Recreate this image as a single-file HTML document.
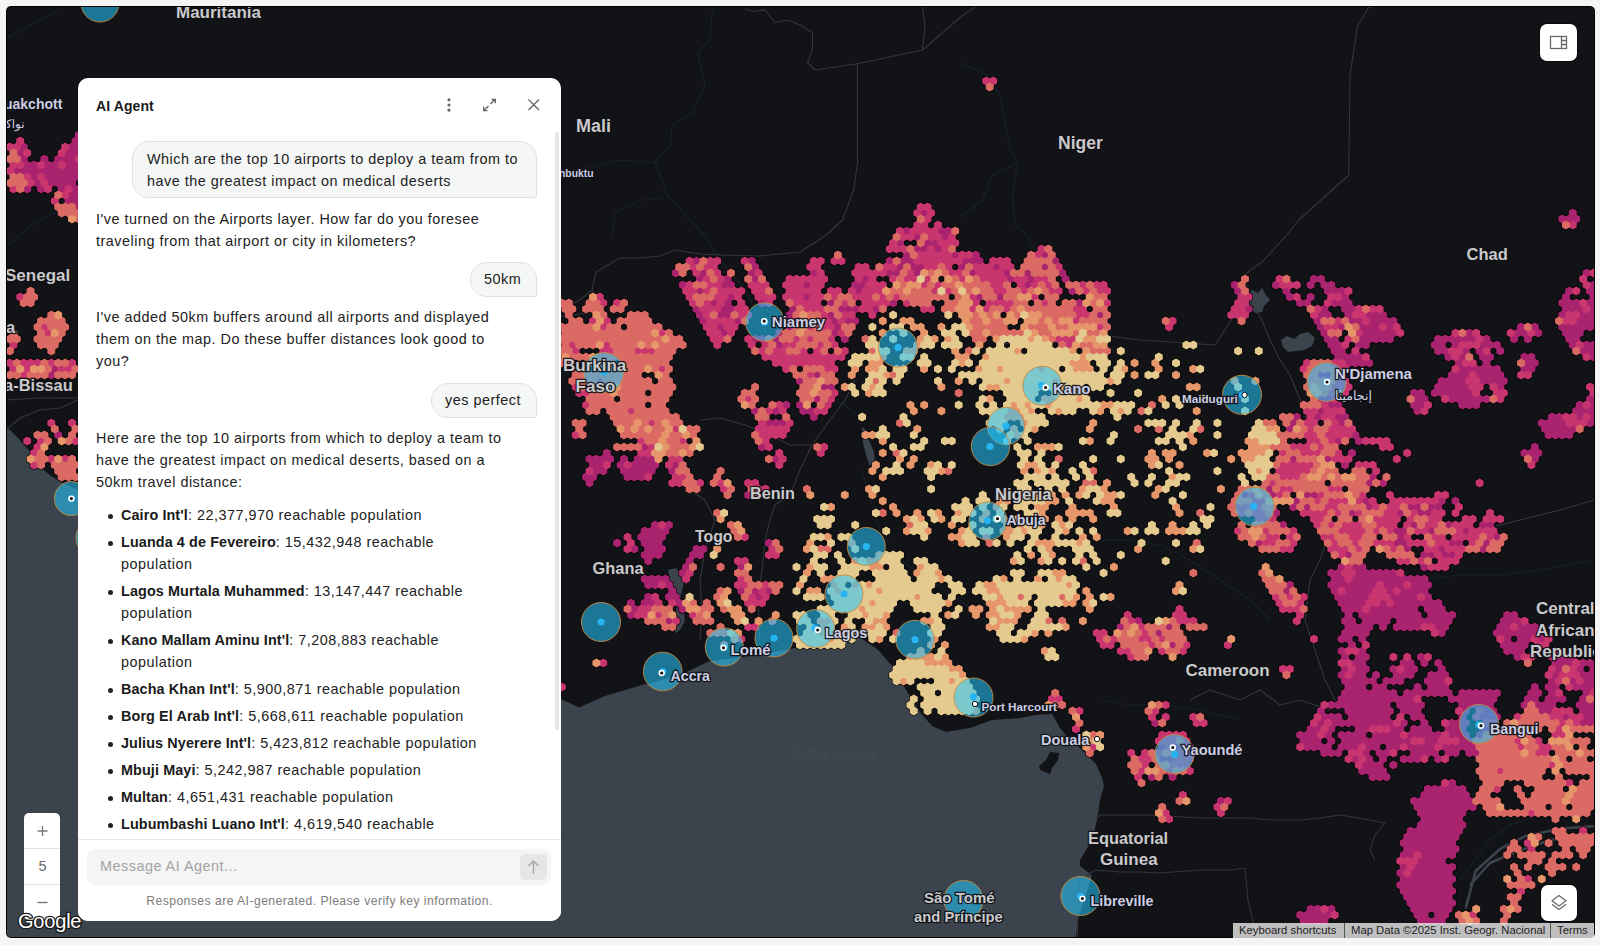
<!DOCTYPE html>
<html><head><meta charset="utf-8">
<style>
*{box-sizing:border-box;margin:0;padding:0}
html,body{width:1600px;height:945px;overflow:hidden;background:#f3f4f3;font-family:"Liberation Sans",Arial,sans-serif}
#map{position:absolute;left:7px;top:7px;width:1587px;height:930px;background:#121317;border-radius:4px;overflow:hidden;box-shadow:0 0 0 1px #000}
#map svg{position:absolute;left:-7px;top:-7px}
.lbl{position:absolute;font-family:"Liberation Sans",Arial,sans-serif;font-weight:bold;color:#cfd0d4;white-space:nowrap;-webkit-text-stroke:2.6px rgba(16,16,20,0.92);paint-order:stroke fill}
#panel{position:absolute;left:78px;top:78px;width:483px;height:843px;background:#fff;border-radius:10px;overflow:hidden;color:#222}
#panel .hdr{position:absolute;left:18px;top:20px;font-size:14px;font-weight:bold;color:#1b1b1b;letter-spacing:0.1px}
.t{position:absolute;font-size:14.4px;line-height:22px;color:#222;white-space:nowrap;letter-spacing:0.5px}
.bub{position:absolute;background:#f5f6f6;border:1px solid #dfe1e1;border-radius:17px 17px 3px 17px}
.li{position:absolute;left:43px;font-size:14.4px;line-height:22px;color:#222;white-space:nowrap;letter-spacing:0.5px}
.li b{color:#1a1a1a;letter-spacing:0.1px}
.dot{position:absolute;left:30px;width:5px;height:5px;border-radius:50%;background:#222}
#scroll{position:absolute;left:477px;top:54px;width:4px;height:598px;background:#e4e5e5;border-radius:2px}
#div{position:absolute;left:0;top:761px;width:483px;height:1px;background:#e8e8e8}
#inp{position:absolute;left:9px;top:771px;width:464px;height:36px;background:#f5f5f5;border-radius:8px}
#inp span{position:absolute;left:13px;top:9px;font-size:14.4px;color:#a3a3a3;letter-spacing:0.5px}
#send{position:absolute;left:433px;top:5px;width:27px;height:26px;background:#e5e6e6;border-radius:5px}
#foot{position:absolute;left:0;width:483px;top:816px;text-align:center;font-size:12.2px;color:#7c7c7c;letter-spacing:0.44px}
#zoom{position:absolute;left:24px;top:813px;width:36px;height:107px;background:#fff;border-radius:5px}
#zoom div{position:absolute;left:0;width:36px;height:1px;background:#e3e3e3}
#attr{position:absolute;left:1233px;top:923px;width:361px;height:15px;background:rgba(240,240,240,0.78);font-family:"Liberation Sans",Arial,sans-serif;font-size:11.3px;color:#222;white-space:nowrap}
#attr span{position:absolute;top:1px}
.btn{position:absolute;width:37px;height:37px;background:#fff;border-radius:7px;box-shadow:0 0 0 1px rgba(0,0,0,.5)}
</style></head><body>
<div id="map">
<svg width="1600" height="945" viewBox="0 0 1600 945">
<defs>
<marker id="hM" markerUnits="userSpaceOnUse" markerWidth="8" markerHeight="9" refX="3.5" refY="4" orient="0" overflow="visible"><path d="M3.5 -0.6l3.97 2.3v4.6l-3.97 2.3-3.97-2.3v-4.6z" fill="#a9236f"/></marker>
<marker id="hP" markerUnits="userSpaceOnUse" markerWidth="8" markerHeight="9" refX="3.5" refY="4" orient="0" overflow="visible"><path d="M3.5 -0.6l3.97 2.3v4.6l-3.97 2.3-3.97-2.3v-4.6z" fill="#c9356e"/></marker>
<marker id="hC" markerUnits="userSpaceOnUse" markerWidth="8" markerHeight="9" refX="3.5" refY="4" orient="0" overflow="visible"><path d="M3.5 -0.6l3.97 2.3v4.6l-3.97 2.3-3.97-2.3v-4.6z" fill="#db6a65"/></marker>
<marker id="hO" markerUnits="userSpaceOnUse" markerWidth="8" markerHeight="9" refX="3.5" refY="4" orient="0" overflow="visible"><path d="M3.5 -0.6l3.97 2.3v4.6l-3.97 2.3-3.97-2.3v-4.6z" fill="#e6966a"/></marker>
<marker id="hB" markerUnits="userSpaceOnUse" markerWidth="8" markerHeight="9" refX="3.5" refY="4" orient="0" overflow="visible"><path d="M3.5 -0.6l3.97 2.3v4.6l-3.97 2.3-3.97-2.3v-4.6z" fill="#e5ca8f"/></marker>
<marker id="hQ" markerUnits="userSpaceOnUse" markerWidth="8" markerHeight="9" refX="3.5" refY="4" orient="0" overflow="visible"><path d="M3.5 -0.6l3.97 2.3v4.6l-3.97 2.3-3.97-2.3v-4.6z" fill="#bd3079"/></marker>
<marker id="hK" markerUnits="userSpaceOnUse" markerWidth="8" markerHeight="9" refX="3.5" refY="4" orient="0" overflow="visible"><path d="M3.5 -1.3l4.6 2.65v5.3l-4.6 2.65-4.6-2.65v-5.3z" fill="#040506"/></marker>
</defs>
<polygon points="0,427 7,427 18,438 28.6,450 40,467 51,476 63,483 78,490 300,600 561,699 579,707.5 605,696 642,685 680,675 710,661 740,657.5 785,650 825,642.5 860,637.5 875,647.5 880,652 892,666 906,690 920,712 932,726 946,732 970,728 992,720 1020,718 1036,715 1052,714 1060,728 1070,740 1080,748 1088,756 1096,764 1102,778 1104,786 1100,800 1097,820 1092,840 1080,860 1080,866 1088,872 1092,876 1084,900 1078,920 1075,945 0,945" fill="#3b444d"/>
<polygon points="1050,752 1059,753 1058,760 1052,768 1050,774 1040,770 1039,766 1046,760" fill="#121317"/>
<polygon points="1247,298 1252,290 1258,293 1262,288 1266,295 1270,300 1264,306 1262,312 1255,313 1250,306" fill="#3b444d"/>
<polygon points="1281,340 1287,336 1294,339 1300,334 1308,332 1315,338 1312,346 1304,350 1296,351 1288,352 1283,347" fill="#3b444d"/>
<polygon points="862,427 866,430 869,440 874,452 875,464 870,466 866,455 863,443" fill="#3b444d"/>
<polygon points="668.2,570 676,568 684.7,579 682,590 680,600 684,612 684.7,621 680,630 675.7,633 673,628 671,624 675,615 677,606 674,596 671,585" fill="#3b444d"/>
<polyline points="1465.6,908.5 1475.7,871 1500.8,848.3 1525.8,835.8 1563.4,828.3 1601,825.8" fill="none" stroke="#3b444d" stroke-width="2.6" stroke-linejoin="round"/>
<polyline points="1470,885 1490,863 1513,853 1550,840 1600,835" fill="none" stroke="#3b444d" stroke-width="2.6" stroke-linejoin="round"/>
<polyline points="7,246 30,226 60,210 78,204" fill="none" stroke="#18202b" stroke-width="1.2" stroke-linejoin="round"/>
<polyline points="960,62.5 987.5,75 1000,95 1010,150 1017.5,162.5 1012.5,195 1015,225 1027.5,236 1035,250" fill="none" stroke="#18202b" stroke-width="1.2" stroke-linejoin="round"/>
<polyline points="1017.5,162.5 992.5,175 982.5,200 960,217.5" fill="none" stroke="#18202b" stroke-width="1.2" stroke-linejoin="round"/>
<polyline points="7,38 40,20 60,10" fill="none" stroke="#18202b" stroke-width="1.2" stroke-linejoin="round"/>
<polyline points="760,320 770,345 785,365 800,380 820,395 845,405 862,420" fill="none" stroke="#18202b" stroke-width="1.2" stroke-linejoin="round"/>
<polyline points="862,470 870,500 880,530 900,560 930,580 960,600 990,625" fill="none" stroke="#18202b" stroke-width="1.2" stroke-linejoin="round"/>
<polyline points="712.5,8.75 710,40 697.5,52.5 705,85 692.5,112.5 672.5,125 670,145 655,162.5 620,160 580,170 561,176" fill="none" stroke="#18202b" stroke-width="1.2" stroke-linejoin="round"/>
<polyline points="655,162.5 667.5,195 692.5,222.5 705,236 720,260 745,290 760,320" fill="none" stroke="#18202b" stroke-width="1.2" stroke-linejoin="round"/>
<polyline points="612.5,236 615,212.5 642.5,200 670,197.5" fill="none" stroke="#18202b" stroke-width="1.2" stroke-linejoin="round"/>
<polyline points="1100,540 1130,540 1160,545 1190,560 1220,580 1250,600 1270,620" fill="none" stroke="#18202b" stroke-width="1.2" stroke-linejoin="round"/>
<polyline points="1420,580 1460,575 1500,575 1540,570 1594,560" fill="none" stroke="#18202b" stroke-width="1.2" stroke-linejoin="round"/>
<polyline points="1100,700 1130,705 1160,705 1200,710 1240,720" fill="none" stroke="#18202b" stroke-width="1.2" stroke-linejoin="round"/>
<polyline points="1460,880 1475,860 1490,840 1510,825 1540,815 1594,810" fill="none" stroke="#18202b" stroke-width="1.2" stroke-linejoin="round"/>
<polyline points="745,8.75 752.5,11.25 765,10 775,22.5 787.5,20 800,25 812.5,32.5 812.5,50 807.5,62.5 815,70 857.5,63.75 922.5,50 960,17.5 975,7" fill="none" stroke="#34363b" stroke-width="1.1" stroke-linejoin="round"/>
<polyline points="922.5,50 925,25 922.5,7" fill="none" stroke="#34363b" stroke-width="1.1" stroke-linejoin="round"/>
<polyline points="857.5,63.75 857.5,162.5 853.75,190 842.5,220 825,236 800,252 760,256 720,255 700,254 675,250 660,256 640,258 620,258 596,272 592,290 580,300 561,310" fill="none" stroke="#34363b" stroke-width="1.1" stroke-linejoin="round"/>
<polyline points="560,316 590,313 593,290" fill="none" stroke="#34363b" stroke-width="1.1" stroke-linejoin="round"/>
<polyline points="1372,7 1368.75,7.5 1357.5,26 1350,75 1348.75,175 1298.75,220 1286,236 1262,262 1244,275" fill="none" stroke="#34363b" stroke-width="1.1" stroke-linejoin="round"/>
<polyline points="1000,345 1030,338 1060,335 1100,335 1140,340 1170,342 1215,345 1225,330 1240,305 1244,275" fill="none" stroke="#34363b" stroke-width="1.1" stroke-linejoin="round"/>
<polyline points="1244,275 1250,300 1262,320 1270,340 1280,360 1290,375 1300,400 1310,430 1320,450 1330,470 1335,490 1325,510 1330,530 1320,560 1310,580 1305,620 1315,650 1325,680 1340,710" fill="none" stroke="#34363b" stroke-width="1.1" stroke-linejoin="round"/>
<polyline points="1077,960 1078,900 1080,880 1095,870 1120,872 1140,872 1160,873 1200,870 1230,870 1245,868" fill="none" stroke="#34363b" stroke-width="1.1" stroke-linejoin="round"/>
<polyline points="1095,820 1100,815 1150,815 1200,818 1250,818 1270,820 1300,820 1320,818 1340,815 1370,820 1385,823 1375,835 1370,850 1375,860" fill="none" stroke="#34363b" stroke-width="1.1" stroke-linejoin="round"/>
<polyline points="1245,868 1248,900 1255,930 1265,945" fill="none" stroke="#34363b" stroke-width="1.1" stroke-linejoin="round"/>
<polyline points="760,640 758,600 762,570 765,540 770,520 775,505 790,495 800,470 812,445 830,420 845,400 855,380" fill="none" stroke="#34363b" stroke-width="1.1" stroke-linejoin="round"/>
<polyline points="700,420 720,418 745,425 770,435 790,445 812,445" fill="none" stroke="#34363b" stroke-width="1.1" stroke-linejoin="round"/>
<polyline points="7,400 40,398 78,398" fill="none" stroke="#34363b" stroke-width="1.1" stroke-linejoin="round"/>
<polyline points="7,429 20,418 40,410 60,408 78,400" fill="none" stroke="#34363b" stroke-width="1.1" stroke-linejoin="round"/>
<polyline points="700,640 702,610 700,580 705,550 715,520 705,500 690,490 685,470" fill="none" stroke="#34363b" stroke-width="1.1" stroke-linejoin="round"/>
<polyline points="1190,700 1210,690 1240,700 1260,690 1280,705 1300,700 1330,710" fill="none" stroke="#34363b" stroke-width="1.1" stroke-linejoin="round"/>
<polyline points="1480,530 1520,520 1560,510 1594,500" fill="none" stroke="#34363b" stroke-width="1.1" stroke-linejoin="round"/>
<text x="833" y="758" text-anchor="middle" font-family="Liberation Sans,Arial,sans-serif" font-size="13" fill="#424a53">Gulf of Guinea</text>
<path d="M986.3 81h6.9M989.7 87M78.9 135M20.2 141h55.2h6.9M9.9 147h6.9h6.9h41.4h6.9h6.9M13.4 153h6.9h6.9h34.5h6.9h6.9h6.9M9.9 159h6.9h6.9h20.7h13.8h6.9h6.9h6.9M13.4 165h6.9h6.9h6.9h6.9h6.9h6.9h6.9h6.9h6.9h6.9M9.9 171h6.9h6.9h6.9h6.9h6.9h6.9h6.9h6.9h6.9h6.9M13.4 177h6.9h6.9h6.9h6.9h6.9h6.9h6.9h6.9h6.9h6.9M9.9 183h6.9h6.9h6.9h6.9h6.9h6.9h6.9h6.9h6.9M13.4 189h6.9h6.9h13.8h6.9h13.8h6.9h6.9h6.9M58.2 195h6.9h6.9h6.9M54.8 201h13.8h6.9h6.9M58.2 207h6.9h6.9h6.9h841.8h6.9M61.7 213h6.9h6.9h6.9h834.9h6.9h6.9h641.7M72.0 219h6.9h841.8h6.9h634.8h6.9h6.9M917.3 225h6.9h13.8h627.9h6.9M900.0 231h6.9h6.9h6.9h6.9h6.9h6.9h6.9h6.9M896.6 237h6.9h6.9h6.9h6.9h6.9h6.9h6.9h6.9M893.1 243h6.9h20.7h6.9h6.9h6.9h6.9h6.9M889.7 249h6.9h6.9h6.9h6.9h6.9h6.9h6.9h6.9h6.9h89.7h6.9M837.9 255h69h6.9h6.9h6.9h6.9h6.9h6.9h6.9h6.9h6.9h6.9h55.2h6.9h6.9h6.9M689.6 261h6.9h6.9h6.9h6.9h27.6h6.9h62.1h6.9h13.8h6.9h48.3h6.9h6.9h6.9h6.9h6.9h6.9h6.9h6.9h6.9h6.9h6.9h6.9h6.9h13.8h6.9h6.9h20.7h6.9h6.9h6.9h6.9M679.2 267h6.9h6.9h6.9h6.9h6.9h34.5h6.9h55.2h6.9h41.4h6.9h13.8h6.9h6.9h6.9h6.9h6.9h6.9h6.9h6.9h6.9h6.9h13.8h6.9h6.9h6.9h6.9h6.9h6.9h6.9h13.8h6.9h6.9h6.9h6.9h6.9M675.8 273h6.9h13.8h6.9h6.9h6.9h13.8h20.7h6.9h55.2h6.9h34.5h6.9h6.9h6.9h6.9h6.9h6.9h6.9h6.9h6.9h6.9h6.9h6.9h6.9h6.9h6.9h6.9h6.9h6.9h6.9h6.9h6.9h6.9h6.9h6.9h6.9h6.9h6.9h6.9h6.9h6.9h524.4h6.9M699.9 279h6.9h6.9h6.9h6.9h20.7h6.9h6.9h27.6h6.9h6.9h6.9h6.9h6.9h34.5h6.9h6.9h20.7h6.9h6.9h6.9h6.9h6.9h6.9h13.8h6.9h6.9h6.9h6.9h6.9h6.9h6.9h6.9h6.9h6.9h6.9h6.9h6.9h6.9h6.9h13.8h179.4h34.5h6.9h27.6h6.9h262.2M682.7 285h6.9h6.9h6.9h6.9h6.9h6.9h6.9h20.7h6.9h6.9h20.7h6.9h6.9h6.9h6.9h6.9h34.5h6.9h6.9h6.9h6.9h13.8h6.9h6.9h6.9h6.9h6.9h6.9h6.9h6.9h6.9h6.9h6.9h6.9h6.9h6.9h6.9h6.9h13.8h6.9h6.9h6.9h6.9h6.9h13.8h6.9h6.9h6.9h6.9h6.9h131.1h6.9h34.5h6.9h6.9h6.9h13.8h13.8h6.9h255.3h6.9M30.6 291h655.5h6.9h6.9h6.9h6.9h6.9h6.9h6.9h6.9h13.8h6.9h6.9h20.7h6.9h6.9h6.9h6.9h13.8h6.9h13.8h6.9h6.9h6.9h6.9h6.9h6.9h6.9h6.9h6.9h6.9h6.9h6.9h6.9h6.9h6.9h6.9h6.9h6.9h6.9h6.9h6.9h6.9h6.9h6.9h6.9h6.9h6.9h6.9h6.9h6.9h13.8h6.9h6.9h6.9h6.9h6.9h131.1h6.9h41.4h41.4h6.9h6.9h6.9h220.8h6.9h13.8M20.2 297h6.9h6.9h558.9h6.9h89.7h6.9h6.9h6.9h6.9h6.9h6.9h6.9h20.7h6.9h6.9h13.8h6.9h6.9h6.9h6.9h6.9h6.9h6.9h6.9h6.9h6.9h6.9h6.9h6.9h6.9h6.9h6.9h6.9h6.9h6.9h6.9h6.9h6.9h6.9h13.8h6.9h6.9h6.9h6.9h6.9h6.9h6.9h6.9h6.9h6.9h6.9h13.8h6.9h34.5h6.9h6.9h138h6.9h41.4h6.9h13.8h20.7h6.9h6.9h220.8h27.6M23.7 303h6.9h531.3h6.9h20.7h6.9h6.9h13.8h6.9h69h6.9h6.9h6.9h6.9h6.9h13.8h20.7h6.9h20.7h6.9h6.9h6.9h6.9h13.8h6.9h6.9h6.9h13.8h6.9h6.9h6.9h6.9h13.8h6.9h6.9h6.9h20.7h6.9h6.9h6.9h6.9h13.8h6.9h6.9h6.9h6.9h6.9h13.8h6.9h6.9h13.8h6.9h6.9h6.9h6.9h6.9h6.9h131.1h6.9h55.2h6.9h20.7h6.9h6.9h6.9h213.9h6.9h6.9h6.9h6.9M565.4 309h6.9h13.8h6.9h6.9h13.8h6.9h75.9h6.9h6.9h6.9h6.9h6.9h6.9h6.9h48.3h6.9h6.9h6.9h6.9h6.9h6.9h6.9h6.9h6.9h6.9h6.9h6.9h6.9h41.4h6.9h13.8h6.9h6.9h6.9h6.9h6.9h6.9h6.9h6.9h6.9h6.9h6.9h6.9h6.9h6.9h6.9h6.9h6.9h6.9h6.9h6.9h13.8h6.9h131.1h6.9h6.9h62.1h6.9h6.9h20.7h6.9h6.9h6.9h6.9h6.9h186.3h6.9h6.9h6.9h6.9M51.3 315h6.9h510.6h27.6h6.9h27.6h6.9h6.9h55.2h6.9h6.9h6.9h6.9h6.9h6.9h6.9h41.4h6.9h6.9h6.9h6.9h6.9h6.9h6.9h6.9h6.9h20.7h20.7h55.2h13.8h6.9h6.9h6.9h6.9h6.9h13.8h6.9h6.9h6.9h6.9h6.9h6.9h6.9h6.9h6.9h6.9h6.9h6.9h6.9h6.9h124.2h6.9h6.9h69h6.9h6.9h20.7h6.9h6.9h6.9h6.9h6.9h179.4h6.9h6.9h6.9h6.9M41.0 321h6.9h6.9h6.9h510.6h6.9h13.8h6.9h6.9h13.8h6.9h6.9h6.9h6.9h55.2h6.9h6.9h6.9h6.9h6.9h6.9h41.4h6.9h6.9h6.9h6.9h6.9h6.9h6.9h6.9h6.9h6.9h27.6h20.7h6.9h55.2h6.9h6.9h6.9h6.9h6.9h6.9h6.9h13.8h6.9h6.9h6.9h6.9h6.9h6.9h6.9h6.9h6.9h6.9h6.9h62.1h6.9h69h75.9h6.9h6.9h6.9h6.9h6.9h6.9h6.9h6.9h6.9h6.9h6.9h165.6h6.9h6.9h6.9h6.9h6.9M37.5 327h6.9h6.9h6.9h6.9h496.8h6.9h6.9h6.9h6.9h6.9h6.9h6.9h6.9h13.8h6.9h6.9h6.9h6.9h48.3h6.9h6.9h6.9h6.9h55.2h6.9h6.9h6.9h6.9h6.9h6.9h6.9h6.9h6.9h20.7h20.7h6.9h13.8h6.9h20.7h13.8h6.9h6.9h6.9h6.9h6.9h6.9h6.9h20.7h6.9h6.9h6.9h6.9h6.9h6.9h6.9h6.9h6.9h6.9h6.9h6.9h62.1h151.8h6.9h6.9h6.9h6.9h6.9h6.9h6.9h6.9h6.9h6.9h6.9h124.2h6.9h6.9h27.6h6.9h6.9h6.9h6.9M13.4 333h27.6h6.9h6.9h6.9h503.7h6.9h6.9h6.9h6.9h6.9h6.9h6.9h6.9h6.9h6.9h6.9h6.9h6.9h6.9h6.9h41.4h6.9h6.9h6.9h48.3h6.9h6.9h6.9h6.9h6.9h6.9h6.9h6.9h6.9h6.9h34.5h20.7h20.7h20.7h6.9h13.8h6.9h6.9h6.9h6.9h6.9h6.9h6.9h6.9h6.9h6.9h6.9h6.9h6.9h6.9h6.9h6.9h6.9h6.9h6.9h6.9h220.8h6.9h6.9h13.8h6.9h6.9h6.9h6.9h6.9h6.9h6.9h55.2h6.9h6.9h6.9h34.5h6.9h6.9h6.9h6.9h27.6h6.9h6.9M9.9 339h6.9h20.7h6.9h6.9h6.9h503.7h6.9h6.9h6.9h6.9h6.9h6.9h6.9h6.9h6.9h6.9h6.9h6.9h6.9h6.9h6.9h6.9h6.9h34.5h6.9h6.9h20.7h6.9h6.9h6.9h6.9h6.9h6.9h6.9h6.9h6.9h6.9h6.9h6.9h13.8h20.7h6.9h20.7h27.6h6.9h6.9h13.8h6.9h20.7h6.9h13.8h6.9h6.9h6.9h6.9h6.9h6.9h6.9h6.9h6.9h6.9h6.9h6.9h6.9h6.9h6.9h6.9h220.8h6.9h13.8h6.9h6.9h6.9h6.9h6.9h6.9h48.3h6.9h6.9h6.9h6.9h6.9h6.9h6.9h27.6h13.8h41.4h6.9M13.4 345h27.6h6.9h6.9h510.6h6.9h6.9h6.9h6.9h6.9h6.9h6.9h6.9h6.9h6.9h6.9h6.9h6.9h6.9h6.9h6.9h6.9h34.5h34.5h13.8h6.9h6.9h6.9h6.9h6.9h6.9h6.9h6.9h6.9h6.9h34.5h6.9h41.4h6.9h6.9h13.8h6.9h6.9h20.7h20.7h13.8h6.9h6.9h6.9h6.9h6.9h13.8h6.9h6.9h6.9h6.9h6.9h6.9h82.8h6.9h138h6.9h6.9h13.8h6.9h69h6.9h13.8h6.9h6.9h6.9h6.9h6.9h6.9h75.9h6.9h6.9h6.9M9.9 351h41.4h510.6h6.9h6.9h27.6h6.9h6.9h6.9h6.9h6.9h6.9h6.9h6.9h6.9h6.9h82.8h6.9h6.9h6.9h6.9h6.9h6.9h6.9h13.8h6.9h13.8h6.9h27.6h6.9h6.9h20.7h6.9h41.4h13.8h6.9h13.8h6.9h6.9h6.9h6.9h13.8h6.9h6.9h6.9h6.9h6.9h6.9h13.8h6.9h6.9h6.9h13.8h117.3h20.7h75.9h6.9h13.8h82.8h6.9h6.9h6.9h6.9h13.8h6.9h13.8h75.9h6.9h6.9M565.4 357h6.9h6.9h6.9h6.9h6.9h6.9h6.9h6.9h6.9h6.9h6.9h6.9h6.9h6.9h6.9h96.6h6.9h6.9h6.9h6.9h6.9h6.9h6.9h6.9h6.9h6.9h6.9h13.8h6.9h6.9h6.9h6.9h20.7h6.9h13.8h34.5h6.9h20.7h6.9h6.9h6.9h6.9h6.9h6.9h6.9h6.9h6.9h6.9h6.9h6.9h6.9h6.9h6.9h6.9h6.9h55.2h179.4h6.9h6.9h6.9h6.9h82.8h6.9h6.9h6.9h13.8h6.9h34.5h6.9h55.2h6.9M9.9 363h6.9h6.9h6.9h6.9h6.9h6.9h6.9h6.9h6.9h489.9h6.9h20.7h6.9h6.9h6.9h13.8h6.9h6.9h6.9h6.9h6.9h6.9h110.4h6.9h6.9h6.9h6.9h6.9h6.9h6.9h6.9h20.7h6.9h13.8h6.9h41.4h6.9h27.6h6.9h6.9h13.8h6.9h6.9h6.9h6.9h6.9h6.9h6.9h6.9h6.9h6.9h6.9h6.9h6.9h6.9h6.9h13.8h6.9h13.8h13.8h20.7h20.7h131.1h6.9h6.9h6.9h6.9h6.9h6.9h6.9h6.9h6.9h89.7h6.9h6.9h13.8h34.5h6.9h6.9M13.4 369h6.9h6.9h6.9h6.9h6.9h6.9h6.9h6.9h6.9h510.6h13.8h6.9h6.9h6.9h6.9h6.9h6.9h6.9h6.9h6.9h6.9h117.3h6.9h13.8h6.9h6.9h6.9h6.9h20.7h13.8h6.9h6.9h13.8h6.9h20.7h13.8h13.8h27.6h6.9h6.9h6.9h6.9h6.9h6.9h6.9h6.9h6.9h6.9h6.9h13.8h6.9h6.9h6.9h13.8h13.8h6.9h34.5h34.5h6.9h103.5h6.9h6.9h6.9h6.9h6.9h6.9h110.4h6.9h6.9h6.9h6.9h6.9h6.9h27.6h6.9M9.9 375h6.9h6.9h6.9h6.9h6.9h6.9h6.9h6.9h6.9h503.7h6.9h6.9h6.9h6.9h6.9h6.9h6.9h6.9h6.9h20.7h6.9h131.1h6.9h6.9h6.9h6.9h6.9h20.7h20.7h6.9h6.9h6.9h6.9h62.1h6.9h6.9h6.9h6.9h6.9h6.9h6.9h6.9h6.9h6.9h6.9h6.9h6.9h6.9h6.9h6.9h6.9h6.9h6.9h6.9h13.8h6.9h13.8h13.8h6.9h20.7h131.1h6.9h6.9h6.9h6.9h6.9h110.4h6.9h6.9h6.9h6.9h6.9h6.9h6.9h20.7h6.9M572.3 381h6.9h6.9h6.9h6.9h6.9h6.9h6.9h6.9h6.9h6.9h6.9h13.8h6.9h131.1h6.9h6.9h6.9h6.9h6.9h34.5h6.9h6.9h13.8h41.4h20.7h13.8h13.8h6.9h6.9h6.9h6.9h6.9h6.9h6.9h6.9h6.9h6.9h6.9h6.9h6.9h6.9h6.9h6.9h6.9h6.9h6.9h117.3h20.7h55.2h6.9h6.9h6.9h6.9h6.9h96.6h6.9h6.9h6.9h6.9h6.9h6.9h6.9h6.9h6.9M575.7 387h6.9h6.9h6.9h6.9h6.9h6.9h6.9h6.9h6.9h6.9h6.9h6.9h6.9h6.9h82.8h48.3h6.9h6.9h6.9h6.9h13.8h6.9h13.8h6.9h6.9h62.1h41.4h6.9h6.9h6.9h6.9h6.9h6.9h6.9h6.9h6.9h6.9h6.9h6.9h6.9h6.9h13.8h6.9h89.7h6.9h41.4h69h6.9h6.9h6.9h6.9h6.9h6.9h89.7h6.9h6.9h6.9h6.9h6.9h6.9h13.8h6.9h89.7M579.2 393h6.9h6.9h6.9h6.9h6.9h6.9h6.9h6.9h6.9h13.8h6.9h6.9h75.9h6.9h48.3h6.9h6.9h6.9h6.9h6.9h20.7h13.8h6.9h6.9h75.9h48.3h6.9h6.9h6.9h6.9h20.7h6.9h6.9h6.9h6.9h27.6h27.6h172.5h6.9h6.9h6.9h6.9h6.9h69h6.9h13.8h6.9h6.9h6.9h6.9h6.9h6.9h20.7h6.9h89.7M589.5 399h6.9h6.9h6.9h13.8h6.9h6.9h6.9h6.9h6.9h6.9h75.9h6.9h6.9h48.3h6.9h6.9h6.9h6.9h151.8h6.9h20.7h6.9h6.9h6.9h13.8h6.9h6.9h6.9h6.9h6.9h6.9h75.9h13.8h27.6h41.4h69h6.9h6.9h6.9h75.9h6.9h6.9h20.7h6.9h6.9h6.9h6.9h6.9h6.9h6.9h6.9h89.7M586.1 405h6.9h6.9h6.9h6.9h6.9h6.9h6.9h6.9h13.8h6.9h82.8h6.9h20.7h6.9h6.9h13.8h6.9h13.8h6.9h82.8h13.8h34.5h20.7h13.8h13.8h6.9h6.9h6.9h6.9h6.9h6.9h6.9h6.9h6.9h6.9h6.9h6.9h6.9h6.9h6.9h6.9h6.9h6.9h20.7h13.8h13.8h124.2h6.9h6.9h6.9h6.9h6.9h75.9h6.9h6.9h34.5h6.9h6.9h103.5h6.9h6.9M589.5 411h6.9h13.8h6.9h6.9h6.9h6.9h6.9h6.9h6.9h6.9h89.7h6.9h6.9h6.9h6.9h20.7h6.9h6.9h6.9h89.7h27.6h41.4h6.9h6.9h6.9h6.9h6.9h6.9h6.9h20.7h6.9h6.9h6.9h20.7h6.9h13.8h6.9h6.9h13.8h6.9h48.3h48.3h62.1h6.9h6.9h6.9h6.9h6.9h75.9h6.9h151.8h6.9h6.9M613.7 417h6.9h6.9h6.9h6.9h6.9h6.9h6.9h6.9h6.9h82.8h6.9h20.7h27.6h48.3h41.4h89.7h6.9h6.9h6.9h6.9h6.9h6.9h6.9h75.9h165.6h6.9h6.9h13.8h6.9h6.9h6.9h6.9h6.9h207h6.9h6.9h6.9h6.9h6.9h6.9M51.3 423h20.7h503.7h6.9h34.5h6.9h6.9h6.9h6.9h6.9h6.9h6.9h6.9h6.9h82.8h6.9h6.9h6.9h6.9h110.4h6.9h82.8h6.9h6.9h20.7h6.9h6.9h6.9h48.3h55.2h6.9h6.9h13.8h20.7h20.7h41.4h6.9h6.9h13.8h6.9h6.9h6.9h6.9h13.8h6.9h6.9h6.9h193.2h6.9h6.9h6.9h6.9h6.9h6.9h6.9M54.8 429h20.7h503.7h41.4h6.9h6.9h6.9h6.9h6.9h6.9h6.9h6.9h6.9h6.9h6.9h62.1h6.9h6.9h6.9h6.9h96.6h34.5h82.8h13.8h13.8h6.9h55.2h48.3h20.7h13.8h20.7h6.9h55.2h6.9h6.9h6.9h13.8h6.9h6.9h6.9h6.9h6.9h6.9h6.9h6.9h6.9h193.2h6.9h6.9h6.9h6.9h6.9M37.5 435h6.9h13.8h13.8h503.7h6.9h41.4h6.9h6.9h6.9h6.9h6.9h6.9h6.9h6.9h6.9h6.9h62.1h6.9h6.9h6.9h6.9h82.8h6.9h6.9h6.9h27.6h96.6h6.9h6.9h89.7h55.2h6.9h6.9h6.9h27.6h34.5h6.9h6.9h6.9h6.9h6.9h6.9h6.9h6.9h6.9h6.9h6.9h6.9h6.9h6.9h6.9h193.2h6.9h6.9h6.9M27.2 441h13.8h6.9h13.8h6.9h6.9h565.8h6.9h6.9h6.9h6.9h6.9h6.9h13.8h62.1h6.9h117.3h41.4h20.7h6.9h55.2h20.7h55.2h6.9h20.7h48.3h6.9h13.8h13.8h55.2h6.9h6.9h6.9h6.9h6.9h27.6h6.9h6.9h6.9h6.9h6.9h13.8h6.9h6.9h6.9h6.9M37.5 447h6.9h572.7h6.9h6.9h6.9h6.9h6.9h6.9h6.9h6.9h6.9h6.9h6.9h6.9h62.1h6.9h48.3h6.9h69h20.7h6.9h96.6h20.7h6.9h6.9h6.9h124.2h69h6.9h6.9h6.9h6.9h6.9h6.9h6.9h6.9h6.9h6.9h6.9h6.9h48.3h6.9h144.9M34.1 453h6.9h565.8h34.5h6.9h6.9h6.9h6.9h6.9h6.9h6.9h89.7h41.4h62.1h13.8h6.9h117.3h6.9h13.8h110.4h13.8h6.9h34.5h6.9h27.6h6.9h6.9h6.9h6.9h13.8h6.9h6.9h6.9h6.9h6.9h6.9h6.9h6.9h13.8h55.2h117.3h6.9h6.9M30.6 459h6.9h6.9h6.9h6.9h6.9h6.9h517.5h6.9h6.9h6.9h13.8h13.8h6.9h6.9h6.9h13.8h6.9h89.7h6.9h6.9h117.3h13.8h110.4h13.8h20.7h34.5h27.6h27.6h6.9h13.8h62.1h13.8h6.9h6.9h6.9h13.8h6.9h6.9h6.9h6.9h6.9h6.9h6.9h6.9h6.9h6.9h48.3h131.1h6.9M34.1 465h6.9h13.8h6.9h6.9h6.9h517.5h6.9h6.9h13.8h6.9h6.9h6.9h6.9h6.9h13.8h6.9h6.9h96.6h96.6h20.7h13.8h20.7h6.9h13.8h69h6.9h6.9h6.9h13.8h27.6h69h6.9h20.7h69h6.9h6.9h6.9h6.9h6.9h6.9h6.9h6.9h6.9h6.9h6.9h6.9h13.8h13.8h6.9h6.9h158.7M58.2 471h6.9h6.9h517.5h6.9h6.9h20.7h6.9h6.9h6.9h6.9h20.7h6.9h6.9h34.5h151.8h13.8h6.9h6.9h27.6h6.9h6.9h6.9h75.9h13.8h6.9h6.9h20.7h13.8h6.9h75.9h48.3h34.5h6.9h6.9h13.8h6.9h6.9h6.9h6.9h6.9h6.9h6.9h6.9h20.7h6.9h13.8M61.7 477h6.9h6.9h510.6h6.9h34.5h6.9h6.9h6.9h27.6h6.9h6.9h27.6h165.6h48.3h96.6h6.9h6.9h13.8h20.7h13.8h41.4h20.7h20.7h6.9h6.9h55.2h13.8h6.9h6.9h6.9h6.9h6.9h6.9h6.9h6.9h6.9h6.9h6.9h6.9h6.9h6.9h6.9h6.9h6.9h13.8M589.5 483h82.8h6.9h6.9h6.9h6.9h13.8h6.9h6.9h20.7h6.9h262.2h6.9h13.8h6.9h6.9h6.9h6.9h20.7h6.9h13.8h27.6h13.8h20.7h6.9h69h20.7h6.9h6.9h6.9h6.9h6.9h6.9h6.9h6.9h13.8h6.9h6.9h6.9h6.9h6.9h6.9h6.9h96.6M689.6 489h6.9h27.6h6.9h20.7h6.9h6.9h41.4h62.1h6.9h55.2h89.7h6.9h20.7h13.8h20.7h6.9h6.9h6.9h55.2h6.9h55.2h20.7h6.9h6.9h6.9h6.9h6.9h6.9h6.9h6.9h6.9h6.9h6.9h6.9h6.9h6.9h13.8h6.9h6.9M727.5 495h20.7h6.9h55.2h34.5h27.6h110.4h20.7h6.9h13.8h6.9h6.9h6.9h6.9h13.8h13.8h6.9h13.8h6.9h6.9h6.9h34.5h27.6h55.2h6.9h6.9h6.9h6.9h6.9h6.9h6.9h13.8h6.9h6.9h6.9h6.9h6.9h6.9h6.9h6.9h6.9h27.6h48.3h6.9M882.8 501h82.8h13.8h6.9h13.8h6.9h13.8h6.9h6.9h6.9h6.9h6.9h13.8h27.6h6.9h6.9h62.1h62.1h6.9h6.9h6.9h6.9h6.9h6.9h6.9h6.9h6.9h6.9h6.9h6.9h6.9h6.9h6.9h6.9h6.9h6.9h6.9h6.9h20.7h6.9h6.9h6.9h6.9h6.9h6.9h6.9h13.8M824.1 507h6.9h62.1h62.1h6.9h6.9h13.8h13.8h6.9h13.8h6.9h13.8h6.9h27.6h41.4h62.1h34.5h20.7h6.9h6.9h6.9h6.9h6.9h6.9h20.7h6.9h6.9h6.9h6.9h6.9h6.9h6.9h6.9h6.9h6.9h6.9h6.9h6.9h6.9h6.9h6.9h6.9h6.9h6.9h6.9h6.9h20.7M717.2 513h6.9h151.8h6.9h13.8h20.7h13.8h6.9h20.7h6.9h6.9h13.8h13.8h27.6h6.9h6.9h27.6h6.9h6.9h6.9h20.7h6.9h62.1h20.7h34.5h6.9h6.9h6.9h6.9h6.9h6.9h27.6h6.9h6.9h6.9h6.9h6.9h6.9h6.9h6.9h6.9h6.9h6.9h6.9h6.9h6.9h6.9h6.9h6.9h6.9h6.9h6.9h13.8h34.5M720.6 519h96.6h6.9h6.9h75.9h6.9h6.9h13.8h6.9h13.8h6.9h20.7h13.8h6.9h13.8h27.6h13.8h13.8h20.7h110.4h6.9h48.3h6.9h6.9h41.4h6.9h6.9h13.8h6.9h13.8h6.9h6.9h6.9h6.9h6.9h13.8h6.9h6.9h6.9h6.9h27.6h6.9h13.8h6.9h6.9M655.1 525h6.9h6.9h62.1h6.9h82.8h6.9h27.6h55.2h6.9h6.9h27.6h20.7h34.5h13.8h6.9h6.9h6.9h13.8h6.9h6.9h82.8h20.7h20.7h13.8h34.5h13.8h6.9h6.9h6.9h6.9h34.5h6.9h6.9h6.9h6.9h6.9h6.9h6.9h6.9h6.9h6.9h6.9h13.8h6.9h6.9h6.9h6.9h6.9h6.9h6.9h6.9h6.9h13.8h6.9M644.7 531h6.9h6.9h6.9h69h6.9h144.9h20.7h6.9h6.9h6.9h34.5h6.9h13.8h6.9h13.8h6.9h6.9h6.9h6.9h6.9h20.7h6.9h13.8h13.8h34.5h6.9h13.8h6.9h13.8h6.9h6.9h6.9h6.9h41.4h6.9h6.9h6.9h6.9h6.9h6.9h6.9h6.9h27.6h6.9h6.9h6.9h6.9h6.9h6.9h6.9h6.9h6.9h6.9h6.9h6.9h6.9h6.9h6.9h6.9h6.9h6.9h6.9h6.9h6.9h6.9h6.9h6.9h6.9M627.5 537h13.8h6.9h6.9h6.9h75.9h6.9h69h6.9h6.9h13.8h6.9h75.9h27.6h6.9h6.9h6.9h13.8h20.7h6.9h6.9h13.8h20.7h27.6h13.8h144.9h6.9h6.9h6.9h6.9h6.9h13.8h6.9h27.6h6.9h6.9h6.9h6.9h6.9h6.9h6.9h13.8h6.9h6.9h6.9h20.7h6.9h6.9h13.8h6.9h6.9h6.9h6.9h6.9h6.9h6.9M617.1 543h13.8h13.8h6.9h6.9h110.4h6.9h34.5h20.7h20.7h110.4h6.9h6.9h13.8h6.9h13.8h20.7h6.9h6.9h6.9h6.9h6.9h6.9h6.9h6.9h55.2h34.5h20.7h55.2h6.9h6.9h6.9h6.9h6.9h6.9h34.5h6.9h6.9h6.9h6.9h6.9h6.9h6.9h6.9h6.9h6.9h6.9h6.9h6.9h6.9h6.9h6.9h6.9h6.9h6.9h13.8h6.9h6.9h6.9h6.9M627.5 549h6.9h13.8h6.9h6.9h34.5h6.9h13.8h55.2h6.9h27.6h6.9h6.9h6.9h27.6h172.5h13.8h6.9h27.6h6.9h6.9h48.3h55.2h6.9h62.1h6.9h6.9h6.9h6.9h41.4h6.9h6.9h6.9h6.9h6.9h13.8h6.9h6.9h6.9h6.9h20.7h6.9h6.9h6.9h6.9h6.9h6.9h6.9h6.9h6.9h6.9M644.7 555h6.9h6.9h34.5h6.9h13.8h55.2h6.9h41.4h6.9h13.8h41.4h6.9h6.9h6.9h117.3h13.8h13.8h6.9h27.6h13.8h27.6h213.9h6.9h6.9h6.9h6.9h27.6h6.9h6.9h6.9h13.8h6.9h6.9h6.9h6.9h6.9M648.2 561h41.4h48.3h6.9h69h27.6h13.8h6.9h6.9h6.9h6.9h6.9h6.9h20.7h6.9h89.7h6.9h20.7h6.9h13.8h13.8h6.9h13.8h69h179.4h6.9h6.9h41.4h6.9h6.9h6.9h6.9h13.8h6.9h6.9M686.1 567h6.9h27.6h20.7h6.9h48.3h13.8h6.9h6.9h20.7h6.9h6.9h6.9h6.9h6.9h13.8h6.9h20.7h6.9h6.9h151.8h27.6h151.8h75.9h6.9h6.9h6.9h62.1h6.9h6.9h6.9M682.7 573h6.9h48.3h6.9h62.1h13.8h20.7h6.9h6.9h20.7h6.9h6.9h6.9h6.9h13.8h6.9h6.9h6.9h75.9h6.9h20.7h6.9h6.9h6.9h41.4h89.7h69h6.9h62.1h6.9h6.9h6.9h6.9h6.9h6.9h6.9h6.9h6.9h6.9M644.7 579h6.9h6.9h6.9h20.7h55.2h6.9h55.2h20.7h6.9h6.9h6.9h6.9h27.6h6.9h6.9h6.9h6.9h13.8h6.9h6.9h6.9h6.9h48.3h6.9h13.8h20.7h13.8h6.9h6.9h6.9h193.2h6.9h6.9h55.2h6.9h6.9h6.9h6.9h6.9h6.9h6.9h6.9h6.9h6.9h6.9h6.9h6.9M648.2 585h6.9h6.9h6.9h69h6.9h6.9h6.9h6.9h6.9h6.9h20.7h34.5h6.9h13.8h6.9h6.9h6.9h6.9h6.9h6.9h6.9h6.9h6.9h6.9h6.9h20.7h6.9h20.7h6.9h6.9h6.9h6.9h6.9h6.9h6.9h6.9h6.9h6.9h6.9h6.9h6.9h6.9h103.5h89.7h6.9h6.9h6.9h41.4h6.9h6.9h6.9h6.9h6.9h6.9h6.9h6.9h6.9h6.9h6.9h6.9h6.9h6.9M672.3 591h48.3h6.9h13.8h6.9h6.9h6.9h6.9h6.9h20.7h13.8h6.9h13.8h6.9h6.9h6.9h6.9h6.9h6.9h6.9h6.9h6.9h6.9h6.9h6.9h6.9h6.9h27.6h6.9h13.8h6.9h6.9h6.9h6.9h6.9h6.9h6.9h6.9h6.9h6.9h6.9h6.9h6.9h6.9h13.8h89.7h6.9h89.7h6.9h6.9h6.9h41.4h6.9h6.9h6.9h6.9h6.9h6.9h6.9h6.9h6.9h6.9h6.9h6.9h6.9M648.2 597h6.9h13.8h6.9h13.8h27.6h6.9h20.7h6.9h6.9h6.9h41.4h6.9h6.9h13.8h6.9h6.9h6.9h6.9h6.9h6.9h6.9h6.9h6.9h6.9h6.9h6.9h6.9h6.9h6.9h13.8h34.5h6.9h6.9h6.9h6.9h6.9h6.9h13.8h6.9h6.9h6.9h6.9h6.9h13.8h13.8h6.9h165.6h6.9h6.9h6.9h6.9h34.5h6.9h6.9h6.9h6.9h6.9h6.9h6.9h6.9h6.9h6.9h6.9h6.9h6.9M630.9 603h13.8h6.9h6.9h13.8h6.9h6.9h6.9h13.8h13.8h6.9h20.7h6.9h6.9h75.9h6.9h6.9h6.9h6.9h6.9h6.9h6.9h6.9h20.7h6.9h6.9h6.9h6.9h6.9h41.4h6.9h6.9h6.9h6.9h6.9h13.8h6.9h6.9h6.9h6.9h6.9h13.8h6.9h186.3h6.9h6.9h6.9h41.4h6.9h6.9h6.9h6.9h6.9h6.9h6.9h6.9h6.9h6.9h6.9h6.9h6.9h6.9M627.5 609h6.9h6.9h6.9h6.9h6.9h6.9h13.8h6.9h6.9h6.9h6.9h13.8h6.9h6.9h13.8h69h6.9h6.9h6.9h6.9h6.9h6.9h6.9h6.9h6.9h6.9h27.6h6.9h6.9h6.9h20.7h13.8h6.9h13.8h6.9h6.9h6.9h6.9h6.9h13.8h48.3h89.7h103.5h6.9h6.9h6.9h41.4h6.9h6.9h6.9h6.9h6.9h6.9h6.9h6.9h6.9h6.9h13.8h6.9h6.9M630.9 615h6.9h6.9h6.9h6.9h6.9h6.9h20.7h6.9h6.9h27.6h6.9h34.5h20.7h6.9h20.7h6.9h20.7h6.9h6.9h6.9h6.9h6.9h48.3h13.8h6.9h20.7h13.8h6.9h6.9h6.9h6.9h20.7h6.9h82.8h48.3h6.9h117.3h48.3h13.8h6.9h6.9h6.9h6.9h6.9h6.9h6.9h6.9h13.8h6.9h6.9h6.9h55.2h6.9M648.2 621h6.9h6.9h6.9h6.9h20.7h6.9h6.9h27.6h6.9h13.8h13.8h27.6h6.9h13.8h6.9h6.9h13.8h20.7h6.9h6.9h41.4h6.9h6.9h55.2h6.9h6.9h6.9h20.7h6.9h6.9h13.8h20.7h41.4h6.9h6.9h20.7h6.9h6.9h6.9h6.9h6.9h103.5h48.3h6.9h13.8h6.9h6.9h6.9h13.8h6.9h6.9h6.9h6.9h6.9h6.9h6.9h55.2h6.9h6.9h6.9M665.4 627h6.9h48.3h27.6h6.9h55.2h13.8h6.9h13.8h6.9h13.8h6.9h6.9h6.9h48.3h6.9h48.3h6.9h6.9h6.9h20.7h6.9h6.9h6.9h6.9h6.9h55.2h6.9h6.9h6.9h6.9h6.9h6.9h6.9h6.9h13.8h6.9h6.9h144.9h6.9h6.9h6.9h13.8h13.8h6.9h6.9h6.9h6.9h6.9h6.9h6.9h55.2h6.9h6.9h6.9h6.9h6.9M710.3 633h6.9h6.9h6.9h6.9h69h6.9h6.9h6.9h6.9h6.9h6.9h6.9h6.9h6.9h6.9h6.9h13.8h34.5h6.9h62.1h6.9h13.8h6.9h6.9h13.8h48.3h6.9h13.8h6.9h6.9h6.9h6.9h6.9h6.9h6.9h6.9h6.9h165.6h6.9h6.9h6.9h69h6.9h55.2h6.9h6.9h6.9h6.9h6.9h6.9M734.4 639h6.9h55.2h6.9h6.9h6.9h6.9h6.9h6.9h6.9h6.9h20.7h6.9h13.8h41.4h69h6.9h6.9h6.9h75.9h6.9h6.9h6.9h6.9h6.9h6.9h6.9h6.9h6.9h6.9h6.9h6.9h48.3h82.8h27.6h6.9h13.8h138h6.9h13.8h6.9h6.9h6.9h6.9M724.1 645h75.9h6.9h6.9h6.9h6.9h6.9h6.9h89.7h13.8h158.7h6.9h13.8h6.9h6.9h6.9h6.9h6.9h6.9h6.9h6.9h6.9h41.4h124.2h13.8h138h6.9h6.9h6.9h13.8h6.9M920.7 651h20.7h103.5h6.9h69h6.9h6.9h6.9h6.9h13.8h6.9h6.9h6.9h158.7h6.9h6.9h6.9h144.9h6.9h6.9h34.5M910.4 657h6.9h6.9h6.9h6.9h6.9h103.5h6.9h75.9h6.9h6.9h27.6h172.5h13.8h6.9h27.6h13.8h13.8h6.9h89.7h6.9h6.9h20.7h6.9h6.9h6.9M596.4 663h6.9h296.7h6.9h6.9h6.9h6.9h6.9h6.9h6.9h393.3h6.9h6.9h6.9h41.4h6.9h13.8h13.8h89.7h27.6h6.9h6.9h6.9h6.9h6.9M896.6 669h6.9h6.9h6.9h6.9h6.9h6.9h6.9h6.9h6.9h324.3h6.9h55.2h6.9h6.9h6.9h27.6h6.9h6.9h6.9h27.6h110.4h6.9h6.9h6.9h6.9h13.8M893.1 675h6.9h6.9h6.9h6.9h6.9h6.9h6.9h6.9h6.9h6.9h324.3h55.2h6.9h6.9h6.9h13.8h20.7h6.9h6.9h20.7h6.9h6.9h103.5h6.9h6.9h6.9h6.9h6.9h6.9M896.6 681h6.9h6.9h27.6h6.9h6.9h6.9h6.9h379.5h6.9h6.9h6.9h6.9h13.8h6.9h6.9h27.6h6.9h6.9h6.9h103.5h6.9h6.9h6.9h6.9h6.9h6.9M561.9 687h358.8h6.9h6.9h6.9h6.9h6.9h6.9h6.9h379.5h6.9h6.9h13.8h6.9h34.5h13.8h6.9h6.9h89.7h13.8h6.9h13.8h6.9h6.9h6.9M924.2 693h6.9h13.8h6.9h6.9h6.9h6.9h82.8h289.8h6.9h6.9h6.9h6.9h6.9h6.9h6.9h13.8h6.9h6.9h6.9h6.9h6.9h6.9h13.8h6.9h6.9h6.9h6.9h6.9h34.5h6.9h13.8h6.9h27.6h6.9M913.8 699h13.8h6.9h6.9h6.9h6.9h6.9h6.9h6.9h75.9h6.9h282.9h6.9h6.9h6.9h6.9h6.9h6.9h6.9h6.9h6.9h6.9h6.9h34.5h6.9h6.9h6.9h6.9h6.9h6.9h34.5h6.9h13.8h6.9h6.9h20.7h6.9M910.4 705h13.8h6.9h6.9h6.9h6.9h6.9h6.9h6.9h75.9h6.9h6.9h89.7h6.9h6.9h158.7h6.9h6.9h6.9h6.9h6.9h6.9h6.9h6.9h6.9h13.8h6.9h6.9h6.9h41.4h6.9h6.9h6.9h6.9h34.5h6.9h6.9h6.9h6.9h27.6h6.9h6.9M913.8 711h13.8h13.8h6.9h6.9h6.9h6.9h6.9h96.6h6.9h69h6.9h165.6h27.6h6.9h6.9h6.9h6.9h6.9h6.9h13.8h6.9h6.9h41.4h6.9h13.8h6.9h6.9h34.5h6.9h6.9h6.9h6.9h6.9h6.9h13.8h6.9M1076.0 717h75.9h13.8h27.6h6.9h117.3h6.9h6.9h6.9h13.8h6.9h6.9h6.9h6.9h6.9h13.8h13.8h6.9h41.4h13.8h6.9h6.9h6.9h20.7h6.9h6.9h6.9h6.9h6.9h6.9h6.9h6.9h6.9h6.9h6.9M1079.4 723h75.9h6.9h34.5h6.9h110.4h6.9h6.9h6.9h6.9h6.9h6.9h6.9h6.9h6.9h6.9h6.9h6.9h6.9h20.7h20.7h6.9h6.9h6.9h20.7h6.9h13.8h6.9h6.9h6.9h6.9h6.9h6.9h6.9h6.9h6.9h6.9h6.9h6.9M1076.0 729h234.6h6.9h6.9h6.9h27.6h6.9h6.9h6.9h6.9h6.9h6.9h13.8h6.9h6.9h20.7h6.9h6.9h20.7h6.9h6.9h6.9h6.9h6.9h6.9h6.9h6.9h13.8h6.9h6.9h6.9h6.9h6.9h6.9M1086.3 735h6.9h6.9h62.1h6.9h6.9h6.9h117.3h6.9h6.9h6.9h6.9h13.8h6.9h6.9h6.9h13.8h6.9h6.9h6.9h6.9h6.9h6.9h6.9h6.9h6.9h6.9h6.9h6.9h6.9h13.8h6.9h6.9h6.9h6.9h6.9h6.9h6.9h27.6h6.9h6.9M1082.9 741h6.9h6.9h62.1h6.9h6.9h6.9h6.9h117.3h6.9h6.9h13.8h13.8h6.9h6.9h6.9h6.9h6.9h6.9h6.9h6.9h6.9h6.9h6.9h6.9h6.9h6.9h6.9h6.9h6.9h6.9h6.9h6.9h6.9h6.9h6.9h6.9h6.9h6.9h6.9h6.9h13.8h6.9h6.9h6.9h6.9h6.9M1086.3 747h6.9h6.9h62.1h6.9h6.9h6.9h6.9h110.4h6.9h6.9h6.9h6.9h13.8h6.9h6.9h6.9h6.9h6.9h13.8h6.9h6.9h6.9h6.9h6.9h6.9h6.9h6.9h6.9h6.9h6.9h6.9h6.9h6.9h6.9h6.9h6.9h6.9h6.9h6.9h6.9h6.9h6.9h6.9h6.9h6.9h13.8M1089.8 753h41.4h13.8h6.9h6.9h6.9h6.9h6.9h6.9h6.9h131.1h6.9h6.9h13.8h6.9h6.9h13.8h6.9h6.9h20.7h6.9h6.9h6.9h13.8h6.9h13.8h6.9h6.9h6.9h6.9h6.9h6.9h6.9h6.9h6.9h6.9h6.9h13.8h6.9h6.9h6.9h6.9h6.9M1134.6 759h6.9h6.9h6.9h6.9h6.9h6.9h6.9h6.9h158.7h6.9h6.9h6.9h13.8h20.7h6.9h6.9h6.9h13.8h6.9h34.5h6.9h6.9h6.9h6.9h6.9h6.9h6.9h6.9h6.9h6.9h6.9h6.9h13.8h6.9M1131.2 765h6.9h6.9h13.8h6.9h6.9h6.9h6.9h172.5h6.9h6.9h6.9h13.8h89.7h6.9h6.9h6.9h6.9h6.9h6.9h6.9h6.9h6.9h6.9h6.9h6.9h6.9h6.9h6.9h6.9M1134.6 771h6.9h6.9h6.9h6.9h6.9h6.9h6.9h6.9h172.5h6.9h6.9h6.9h96.6h6.9h6.9h6.9h6.9h6.9h6.9h6.9h6.9h6.9h13.8h13.8h6.9h6.9h6.9M1138.1 777h13.8h6.9h13.8h200.1h6.9h6.9h96.6h6.9h6.9h6.9h6.9h6.9h6.9h6.9h6.9h20.7h34.5M1141.5 783h303.6h6.9h34.5h6.9h6.9h27.6h6.9h6.9h6.9h6.9h6.9h6.9h13.8h6.9M1427.9 789h6.9h6.9h6.9h6.9h6.9h20.7h6.9h6.9h20.7h20.7h6.9h6.9h6.9h13.8h6.9h6.9h6.9M1182.9 795h241.5h6.9h6.9h6.9h6.9h6.9h6.9h13.8h6.9h34.5h13.8h6.9h6.9h6.9h6.9h6.9h6.9h6.9h6.9M1179.5 801h6.9h34.5h6.9h186.3h6.9h6.9h6.9h6.9h6.9h6.9h6.9h6.9h6.9h6.9h6.9h6.9h27.6h6.9h6.9h6.9h6.9h6.9h6.9h6.9h6.9h6.9h6.9M1162.2 807h55.2h6.9h193.2h6.9h6.9h6.9h6.9h6.9h6.9h6.9h6.9h13.8h6.9h6.9h27.6h6.9h6.9h13.8h6.9h13.8h6.9h6.9M1158.8 813h6.9h55.2h200.1h6.9h6.9h6.9h6.9h6.9h6.9h27.6h6.9h6.9h6.9h6.9h6.9h6.9h6.9h6.9h6.9h6.9h6.9h6.9h6.9h6.9M1162.2 819h6.9h255.3h6.9h6.9h6.9h6.9h6.9h96.6h20.7M1421.0 825h6.9h6.9h6.9h6.9h6.9h6.9M1410.6 831h6.9h6.9h6.9h6.9h6.9h6.9h6.9h96.6h6.9h20.7M1407.2 837h6.9h6.9h6.9h6.9h6.9h6.9h6.9h75.9h6.9h20.7h6.9h6.9h6.9h6.9h6.9M1403.7 843h6.9h6.9h6.9h6.9h6.9h6.9h6.9h62.1h13.8h6.9h13.8h13.8h6.9h6.9h6.9h6.9M1407.2 849h6.9h6.9h6.9h6.9h6.9h6.9h6.9h55.2h6.9h13.8h34.5h13.8h6.9M1403.7 855h6.9h6.9h6.9h6.9h6.9h6.9h6.9h55.2h13.8h6.9h6.9h6.9h13.8h6.9h6.9h13.8M1400.3 861h6.9h6.9h6.9h6.9h6.9h6.9h89.7h6.9h13.8M1403.7 867h6.9h6.9h6.9h6.9h6.9h6.9h6.9h62.1h13.8h20.7h6.9h6.9h13.8M1400.3 873h6.9h6.9h6.9h6.9h6.9h6.9h6.9h69h34.5M1403.7 879h6.9h6.9h6.9h6.9h6.9h6.9h6.9h55.2h13.8h6.9h13.8M1400.3 885h6.9h6.9h6.9h6.9h6.9h6.9h6.9h62.1h6.9h6.9h6.9M1403.7 891h6.9h6.9h6.9h6.9h6.9h6.9h6.9h69M1407.2 897h6.9h6.9h6.9h6.9h6.9h6.9h62.1h6.9M1410.6 903h6.9h6.9h6.9h6.9h6.9h6.9h62.1M1310.6 909h6.9h6.9h6.9h82.8h6.9h6.9h6.9h6.9h6.9h27.6h27.6h6.9h6.9M1300.2 915h6.9h6.9h6.9h6.9h6.9h82.8h6.9h13.8h6.9h13.8h6.9h6.9h34.5M1303.7 921h6.9h6.9h6.9h96.6h6.9h6.9h6.9h20.7h6.9h6.9h27.6" fill="none" marker-start="url(#hK)" marker-mid="url(#hK)" marker-end="url(#hK)"/>
<path d="M78.9 135M75.5 141h6.9M23.7 147h48.3h6.9M20.2 153h48.3h6.9h6.9M23.7 159h20.7h13.8h6.9h6.9M27.2 165h6.9h13.8h6.9h13.8h6.9h6.9M16.8 171h6.9h6.9h6.9h6.9h6.9h6.9h6.9h6.9h6.9M34.1 177h13.8h6.9h6.9h6.9h6.9h6.9M37.5 183h13.8h6.9h6.9h6.9M27.2 189h13.8h20.7h13.8h6.9M72.0 195h6.9M68.5 201h6.9h6.9M78.9 207M924.2 213h648.6M1562.4 219h6.9h6.9M906.9 231h34.5h6.9M917.3 237h27.6M900.0 243h27.6h6.9M917.3 249h6.9h13.8M906.9 255h48.3h20.7h69M696.5 261h55.2h138h13.8h6.9h55.2h6.9h6.9h75.9M755.1 267h144.9h13.8h6.9h41.4h34.5h48.3M675.8 273h27.6h48.3h62.1h75.9h6.9h20.7h55.2h34.5h20.7h34.5h524.4M699.9 279h27.6h27.6h110.4h144.9h20.7h34.5h248.4h6.9M682.7 285h41.4h6.9h75.9h48.3h6.9h165.6h207h41.4h34.5h13.8h6.9h262.2M699.9 291h158.7h213.9h165.6h48.3h41.4h6.9h6.9h227.7h20.7M731.0 297h75.9h172.5h20.7h289.8h20.7h34.5h220.8h27.6M713.7 303h13.8h34.5h69h62.1h186.3h220.8h6.9h27.6h6.9h6.9h213.9h6.9h6.9h13.8M696.5 309h27.6h6.9h62.1h48.3h6.9h6.9h20.7h372.6h75.9h20.7h6.9h213.9h6.9h6.9h13.8M699.9 315h20.7h6.9h62.1h41.4h269.1h220.8h6.9h20.7h20.7h6.9h6.9h179.4h20.7h6.9M703.4 321h34.5h48.3h48.3h13.8h6.9h462.3h34.5h6.9h13.8h6.9h6.9h6.9h186.3h6.9h6.9M720.6 327h69h48.3h483h20.7h20.7h6.9h6.9h13.8h131.1h13.8h27.6h6.9h6.9h6.9h6.9M724.1 333h55.2h55.2h489.9h41.4h6.9h6.9h6.9h6.9h75.9h48.3h6.9h13.8h27.6h6.9h6.9M755.1 339h6.9h13.8h69h483h6.9h27.6h6.9h6.9h6.9h6.9h48.3h6.9h6.9h6.9h6.9h6.9h13.8h27.6h13.8h41.4h6.9M779.3 345h552h6.9h20.7h6.9h69h6.9h13.8h27.6h6.9h6.9h75.9h13.8h6.9M1334.7 351h6.9h96.6h6.9h20.7h13.8h20.7h82.8h6.9M1338.2 357h6.9h6.9h6.9h89.7h13.8h20.7h6.9h34.5h6.9h62.1M1348.5 363h6.9h6.9h6.9h89.7h27.6h41.4h6.9M54.8 369h1407.6h6.9h6.9h6.9h6.9h6.9h27.6h6.9M51.3 375h765.9h503.7h6.9h124.2h6.9h6.9h13.8h6.9h6.9h6.9M800.0 381h641.7h6.9h6.9h6.9h20.7h6.9h6.9h6.9M824.1 387h6.9h607.2h6.9h6.9h6.9h6.9h34.5M1414.1 393h6.9h13.8h6.9h6.9h6.9h6.9h6.9M817.2 399h503.7h6.9h89.7h6.9h27.6h6.9h6.9h6.9h6.9h6.9h103.5M786.2 405h13.8h531.3h6.9h75.9h6.9h41.4h6.9h6.9h103.5h13.8M755.1 411h20.7h27.6h6.9h510.6h96.6h158.7h6.9h6.9M813.8 417h483h20.7h20.7h6.9h207h6.9h20.7h13.8M768.9 423h6.9h6.9h510.6h48.3h200.1h6.9h6.9h6.9h27.6M1289.9 429h255.3h6.9h6.9h6.9h6.9M58.2 435h1297.2h193.2h6.9h6.9h6.9M1338.2 441h20.7M644.7 447h117.3h772.8M606.8 453h745.2h172.5h6.9h6.9M589.5 459h6.9h6.9h6.9h13.8h13.8h6.9h6.9h124.2h517.5h34.5h207M593.0 465h6.9h20.7h13.8h6.9h6.9h6.9h20.7h669.3M596.4 471h6.9h20.7h6.9h6.9h6.9h6.9h20.7M586.1 477h6.9h34.5h6.9h6.9h731.4M589.5 483h779.7h13.8M1269.2 489M748.2 495h496.8h27.6h34.5h6.9M1296.8 501h69h75.9h13.8M1293.3 507h13.8h62.1h41.4h6.9h13.8h6.9M1276.1 513h75.9h48.3h20.7h6.9M655.1 525h13.8h614.1h131.1h34.5h34.5h6.9M644.7 531h6.9h6.9h6.9h731.4h6.9h27.6h34.5M641.3 537h6.9h6.9h6.9h738.3h96.6M617.1 543h27.6h6.9h6.9h110.4h489.9h138h6.9h48.3h6.9h27.6M634.4 549h13.8h6.9h6.9h34.5h6.9h703.8h34.5h41.4M644.7 555h6.9h6.9h34.5h6.9h648.6h75.9h6.9h13.8h6.9M648.2 561h41.4M686.1 567h55.2h600.3h13.8h6.9h62.1M682.7 573h648.6h6.9h20.7h6.9h6.9h6.9h6.9h6.9M644.7 579h6.9h6.9h6.9h669.3h6.9h13.8h6.9h6.9h6.9h6.9h6.9h6.9h6.9h6.9h6.9h6.9M648.2 585h6.9h13.8h621h41.4h6.9h6.9h6.9h6.9h6.9h6.9h13.8h6.9h6.9h13.8h6.9h6.9M672.3 591h69h13.8h13.8h517.5h48.3h13.8h6.9h6.9h6.9h20.7h13.8h6.9h6.9h6.9M648.2 597h20.7h6.9h82.8h579.6h6.9h6.9h6.9h6.9h27.6h6.9h6.9h6.9h13.8M630.9 603h13.8h6.9h27.6h662.4h6.9h6.9h6.9h20.7h13.8h6.9h6.9h6.9h6.9h6.9h6.9M634.4 609h48.3h662.4h6.9h6.9h13.8h6.9h6.9h6.9h6.9h6.9h6.9h13.8h6.9h6.9M630.9 615h717.6h13.8h6.9h6.9h6.9h6.9h6.9h6.9h6.9h6.9h13.8h6.9h6.9h6.9h55.2h6.9M668.9 621h469.2h207h6.9h13.8h6.9h6.9h6.9h13.8h6.9h6.9h6.9h6.9h6.9h6.9h6.9h55.2h6.9h6.9M1120.8 627h48.3h179.4h6.9h6.9h6.9h13.8h13.8h6.9h6.9h6.9h20.7h6.9h55.2h6.9h13.8h6.9h6.9M1158.8 633h186.3h6.9h6.9h6.9h75.9h55.2h6.9h6.9h6.9h6.9h6.9h6.9M1341.6 639h6.9h13.8h144.9h13.8h6.9h13.8M1172.6 645h179.4h151.8h6.9h6.9h6.9M1341.6 651h20.7h144.9h6.9h6.9h34.5M1345.1 657h13.8h6.9h55.2h96.6h34.5h6.9h6.9h6.9M1355.4 663h6.9h41.4h6.9h13.8h13.8h117.3h6.9h6.9h13.8h6.9M1345.1 669h13.8h6.9h27.6h13.8h6.9h27.6h117.3h20.7h13.8M1341.6 675h13.8h6.9h13.8h20.7h6.9h6.9h20.7h6.9h6.9h110.4h27.6h6.9M1345.1 681h6.9h6.9h6.9h6.9h13.8h6.9h6.9h27.6h6.9h6.9h110.4h20.7h13.8h6.9M1348.5 687h6.9h6.9h13.8h6.9h34.5h13.8h6.9h6.9h89.7h13.8h6.9h20.7h6.9h6.9M1345.1 693h6.9h6.9h6.9h6.9h6.9h6.9h6.9h13.8h6.9h6.9h6.9h6.9h6.9h6.9h13.8h6.9h6.9h6.9h6.9h6.9h34.5h6.9h13.8h34.5M1341.6 699h6.9h6.9h6.9h6.9h6.9h6.9h6.9h6.9h6.9h6.9h41.4h6.9h6.9h6.9h6.9h6.9h6.9h34.5h6.9h13.8h6.9h6.9h20.7M1331.3 705h6.9h6.9h6.9h6.9h6.9h6.9h6.9h6.9h13.8h6.9h6.9h6.9h41.4h6.9h6.9h6.9h6.9h34.5h13.8h6.9h6.9h27.6h6.9h6.9M1320.9 711h27.6h6.9h6.9h6.9h6.9h6.9h6.9h13.8h6.9h6.9h48.3h20.7h6.9h48.3h6.9h34.5h6.9M1324.4 717h6.9h6.9h13.8h6.9h6.9h6.9h6.9h6.9h27.6h6.9h41.4h20.7h6.9h6.9h69h20.7h6.9M1155.3 723h165.6h13.8h6.9h6.9h6.9h6.9h6.9h6.9h6.9h6.9h13.8h20.7h27.6h6.9h6.9h117.3h6.9M1310.6 729h6.9h13.8h27.6h6.9h27.6h6.9h13.8h6.9h6.9h20.7h6.9h6.9h20.7h6.9M1300.2 735h6.9h6.9h13.8h13.8h6.9h6.9h6.9h13.8h6.9h6.9h6.9h13.8h6.9h6.9h6.9h6.9h13.8h6.9h6.9h13.8M1303.7 741h6.9h6.9h13.8h13.8h6.9h6.9h6.9h6.9h6.9h6.9h6.9h6.9h6.9h20.7h6.9h27.6h6.9M1162.2 747h13.8h6.9h124.2h6.9h6.9h6.9h13.8h6.9h6.9h13.8h6.9h13.8h6.9h13.8h6.9h6.9h6.9h13.8h6.9h6.9h6.9h6.9M1186.4 753h6.9h131.1h6.9h6.9h27.6h13.8h6.9h27.6h6.9h6.9h6.9h13.8h6.9h13.8h6.9M1162.2 759h6.9h186.3h13.8h13.8h20.7h6.9h6.9h20.7M1365.8 765h6.9h6.9h13.8M1362.3 771h6.9h6.9h6.9M1151.9 777h20.7h200.1h6.9h6.9M1452.0 783M1427.9 789h6.9h6.9h6.9h6.9h6.9M1424.4 795h6.9h6.9h6.9h6.9h6.9h6.9M1220.9 801h193.2h6.9h6.9h6.9h6.9h6.9h6.9h6.9h6.9M1417.5 807h6.9h6.9h6.9h6.9h6.9h6.9h6.9h6.9M1421.0 813h6.9h6.9h6.9h6.9h6.9h6.9M1424.4 819h6.9h6.9h6.9h6.9h6.9M1421.0 825h6.9h6.9h6.9h6.9h6.9h6.9M1410.6 831h6.9h6.9h6.9h6.9h6.9h6.9h6.9M1407.2 837h6.9h6.9h6.9h6.9h6.9h6.9h6.9M1403.7 843h6.9h6.9h6.9h6.9h6.9h6.9h6.9M1407.2 849h6.9h6.9h6.9h6.9h6.9h6.9h6.9M1403.7 855h6.9h13.8h6.9h6.9h6.9h6.9M1421.0 861h6.9h6.9h6.9M1403.7 867h13.8h6.9h6.9h6.9h6.9h6.9M1400.3 873h13.8h6.9h6.9h6.9h6.9h6.9M1403.7 879h6.9h6.9h6.9h6.9h6.9h6.9h6.9M1400.3 885h6.9h6.9h6.9h6.9h6.9h6.9h6.9M1403.7 891h6.9h6.9h6.9h6.9h6.9h6.9h6.9M1407.2 897h6.9h6.9h6.9h6.9h6.9h6.9M1410.6 903h6.9h6.9h6.9h6.9h6.9h6.9M1310.6 909h6.9h13.8h82.8h6.9h6.9h6.9h6.9h6.9M1300.2 915h6.9h6.9h6.9h6.9h89.7h6.9h13.8h6.9M1303.7 921h6.9h6.9h6.9h96.6h6.9h6.9h6.9" fill="none" marker-start="url(#hM)" marker-mid="url(#hM)" marker-end="url(#hM)"/>
<path d="M986.3 81h6.9M20.2 141M9.9 147h6.9h48.3M27.2 153h34.5M78.9 159M13.4 165h6.9h20.7h20.7M9.9 171M27.2 177h13.8M30.6 183h13.8M13.4 189h34.5h20.7M65.1 195M54.8 201M920.7 207h6.9M917.3 213h13.8M927.6 219M917.3 225h6.9h13.8h634.8M900.0 231h13.8h6.9h6.9h6.9M903.5 237h6.9h20.7h6.9h13.8M893.1 243h48.3h6.9h6.9M889.7 249h6.9h6.9h27.6h13.8h96.6M920.7 255h6.9h6.9h6.9h6.9h13.8h6.9h69M689.6 261h20.7h6.9h27.6h69h6.9h13.8h6.9h75.9h6.9h6.9h6.9h6.9h6.9h6.9h34.5h6.9h6.9M693.0 267h13.8h6.9h96.6h6.9h41.4h6.9h20.7h6.9h34.5h6.9h13.8h27.6h6.9h6.9h13.8h6.9h48.3M696.5 273h20.7h41.4h62.1h34.5h6.9h6.9h6.9h6.9h27.6h41.4h6.9h20.7h6.9h6.9h6.9h593.4M706.8 279h13.8h69h6.9h6.9h6.9h6.9h6.9h34.5h13.8h20.7h13.8h6.9h13.8h34.5h20.7h6.9h6.9h6.9h13.8h6.9h13.8h6.9h234.6h303.6M689.6 285h20.7h6.9h34.5h6.9h6.9h20.7h6.9h6.9h13.8h6.9h48.3h6.9h6.9h41.4h13.8h55.2h6.9h20.7h13.8h13.8h34.5h13.8h6.9h179.4h6.9h6.9h289.8M686.1 291h6.9h13.8h13.8h6.9h6.9h6.9h13.8h6.9h27.6h6.9h6.9h6.9h6.9h13.8h6.9h13.8h13.8h6.9h6.9h55.2h13.8h48.3h6.9h20.7h27.6h6.9h27.6h13.8h6.9h241.5h227.7M20.2 297h579.6h89.7h27.6h6.9h13.8h20.7h6.9h6.9h13.8h6.9h6.9h13.8h6.9h13.8h20.7h6.9h6.9h13.8h13.8h75.9h62.1h207h6.9h48.3h34.5h6.9M603.3 303h13.8h75.9h13.8h13.8h20.7h27.6h27.6h6.9h6.9h6.9h27.6h20.7h6.9h6.9h6.9h20.7h69h13.8h6.9h6.9h6.9h34.5h62.1h131.1h6.9h82.8h255.3M703.4 309h6.9h6.9h20.7h6.9h62.1h6.9h6.9h41.4h6.9h55.2h6.9h41.4h13.8h20.7h69h6.9h151.8h6.9h75.9h41.4h13.8h6.9h207M706.8 315h34.5h6.9h75.9h20.7h6.9h20.7h207h6.9h144.9h6.9h6.9h69h41.4h6.9h207h6.9M593.0 321h13.8h103.5h6.9h6.9h6.9h62.1h27.6h6.9h13.8h234.6h96.6h165.6h27.6h200.1h6.9M44.4 327h558.9h103.5h6.9h13.8h6.9h75.9h13.8h6.9h269.1h69h158.7h6.9h48.3h13.8M47.9 333h614.1h48.3h6.9h13.8h110.4h517.5h41.4h55.2h20.7h34.5h20.7M713.7 339h6.9h27.6h48.3h13.8h20.7h227.7h6.9h6.9h276h131.1M13.4 345h558.9h34.5h110.4h34.5h13.8h20.7h6.9h27.6h13.8h234.6h276h117.3h6.9h6.9h103.5M575.7 351h27.6h6.9h27.6h6.9h6.9h110.4h13.8h6.9h20.7h13.8h27.6h510.6h96.6h6.9h27.6M765.5 357h6.9h6.9h6.9h6.9h6.9h6.9h6.9h6.9h6.9h6.9h6.9h524.4h89.7h131.1M9.9 363h13.8h6.9h6.9h13.8h20.7h703.8h6.9h6.9h6.9h6.9h6.9h6.9h6.9h6.9h476.1h27.6h6.9h124.2h6.9M13.4 369h13.8h34.5h6.9h593.4h124.2h41.4h6.9h469.2h34.5h6.9h110.4M23.7 375h786.6h531.3h131.1h48.3h6.9M599.9 381h738.3h6.9h124.2h6.9M575.7 387h13.8h745.2h6.9h6.9h124.2h6.9h13.8h96.6M579.2 393h6.9h248.4h496.8h13.8h131.1h20.7h6.9h89.7M748.2 399h82.8h503.7h110.4h55.2M586.1 405h193.2h48.3h496.8h103.5h158.7M630.9 411h138h13.8h34.5h6.9h483h6.9h13.8h6.9h6.9h82.8M1310.6 417h13.8h6.9h234.6h6.9h13.8M51.3 423h20.7h579.6h110.4h27.6h517.5h6.9h20.7h234.6h6.9h6.9M675.8 429h82.8h6.9h6.9h6.9h6.9h524.4h20.7h6.9h6.9h6.9M575.7 435h186.3h6.9h6.9h6.9h524.4h6.9h13.8h6.9h6.9h6.9M27.2 441h13.8h34.5h565.8h41.4h82.8h545.1h6.9h13.8h34.5h6.9h6.9h6.9M37.5 447h614.1h117.3h55.2h469.2h6.9h6.9h13.8h62.1h6.9M34.1 453h607.2h6.9h131.1h41.4h462.3h20.7h6.9h6.9h20.7h69M51.3 459h13.8h607.2h6.9h103.5h552h6.9h6.9h48.3M34.1 465h572.7h20.7h41.4h110.4h503.7h6.9h6.9h6.9h6.9h48.3h6.9h6.9h158.7M589.5 471h690h6.9h6.9h6.9h6.9h69M648.2 477h27.6h6.9h600.3h6.9h6.9M672.3 483h6.9h20.7h20.7h27.6h6.9h517.5h207M724.1 489h34.5h6.9h517.5h6.9h41.4h6.9M1251.9 495h27.6h41.4h41.4h27.6h48.3h6.9M1255.4 501h6.9h55.2h13.8h6.9h6.9h13.8h13.8h20.7h6.9h6.9h6.9h6.9h6.9h6.9M1238.1 507h6.9h6.9h6.9h69h6.9h41.4h13.8h6.9h62.1M1241.6 513h13.8h6.9h41.4h6.9h6.9h6.9h13.8h20.7h27.6h6.9h20.7h20.7h6.9h13.8h34.5M1258.8 519h6.9h6.9h41.4h6.9h55.2h6.9h6.9h6.9h13.8h20.7h6.9h27.6h6.9h13.8h6.9h6.9M662.0 525h655.5h13.8h13.8h6.9h6.9h20.7h6.9h6.9h13.8h20.7h6.9h20.7h6.9h6.9M1238.1 531h27.6h27.6h48.3h6.9h6.9h6.9h13.8h13.8h27.6h6.9h34.5h13.8h6.9h6.9h6.9M627.5 537h117.3h524.4h6.9h13.8h34.5h6.9h20.7h6.9h48.3h27.6h6.9h13.8h6.9h6.9h6.9h13.8M630.9 543h634.8h6.9h20.7h41.4h20.7h20.7h6.9h6.9h20.7h6.9h6.9h13.8h6.9h27.6M627.5 549h144.9h510.6h6.9h41.4h6.9h6.9h13.8h34.5h34.5h6.9h13.8h6.9h6.9M768.9 555h6.9h565.8h96.6h20.7M737.9 561h6.9h655.5h6.9h13.8h20.7h6.9h6.9M1348.5 567h82.8h6.9h6.9M689.6 573h655.5h6.9h48.3M686.1 579h55.2h607.2M662.0 585h75.9h6.9h20.7h614.1h27.6M762.0 591h579.6h34.5h6.9h13.8M655.1 597h96.6h13.8h510.6h13.8h13.8h69h6.9h6.9h34.5M658.5 603h13.8h75.9h6.9h6.9h517.5h20.7h69h6.9h13.8M641.3 609h6.9h531.3h103.5h6.9h6.9h69M637.8 615h6.9h13.8h34.5h434.7h48.3h6.9h117.3M675.8 621h455.4h48.3h6.9h6.9h103.5h227.7M748.2 627h6.9h386.4h282.9h6.9h82.8M1096.7 633h6.9h41.4h289.8M741.3 639h358.8h13.8h27.6h6.9h13.8h151.8h186.3h34.5h13.8M1103.6 645h6.9h41.4h34.5h41.4h138h172.5h6.9M1120.8 651h6.9h34.5h20.7h165.6h6.9M1131.2 657h262.2h13.8h20.7h96.6h6.9M603.3 663h738.3h6.9h227.7M1283.0 669h6.9h62.1h48.3h151.8h20.7M1348.5 675h200.1h13.8h6.9h6.9M1448.6 681h110.4h20.7M561.9 687h1007.4M1559.0 693h34.5M1051.8 699h6.9h358.8M1165.7 705h158.7M1079.4 711h75.9h303.6h20.7h75.9h6.9h6.9M1151.9 717h13.8h27.6h124.2h82.8h75.9h41.4h34.5h6.9h13.8h6.9M1196.7 723h6.9h110.4h13.8h69h48.3h41.4h6.9h69h13.8M1076.0 729h248.4h48.3h6.9h6.9h117.3h55.2M1162.2 735h6.9h6.9h6.9h138h82.8h41.4h110.4h6.9M1158.8 741h6.9h6.9h13.8h227.7h6.9h20.7h6.9h6.9h62.1h20.7M1093.2 747h75.9h20.7h110.4h62.1h41.4h34.5h82.8h20.7h6.9M1131.2 753h13.8h13.8h20.7h172.5h6.9h34.5h144.9h6.9M1141.5 759h6.9h27.6h6.9h6.9h158.7h13.8h62.1h20.7M1145.0 765h27.6h6.9h6.9h172.5h193.2M1141.5 771h27.6h20.7h310.5M1138.1 777M1445.1 783h124.2M1496.9 789M1182.9 795M1227.8 801M1217.4 807M1165.7 813h55.2h310.5M1169.1 819M1583.1 831M1527.9 843M1531.4 849M1417.5 855M1400.3 861h6.9h6.9M1410.6 867M1407.2 873M1527.9 879M1521.0 891M1324.4 909M1334.7 915h138" fill="none" marker-start="url(#hP)" marker-mid="url(#hP)" marker-end="url(#hP)"/>
<path d="M989.7 87M13.4 153M9.9 159h6.9M13.4 177h6.9M9.9 183h6.9h6.9M20.2 189M58.2 195M58.2 207h6.9h6.9M61.7 213h6.9h6.9h6.9M78.9 219h841.8M1565.9 225M955.2 231M896.6 237h27.6M920.7 243M910.4 249h41.4h96.6M837.9 255h75.9h117.3h20.7M703.4 261h193.2h131.1h6.9h6.9h6.9M679.2 267h6.9h13.8h48.3h131.1h27.6h34.5h27.6h55.2h6.9h6.9h13.8M682.7 273h27.6h20.7h172.5h27.6h13.8h20.7h48.3h6.9h13.8h6.9h6.9h6.9M713.7 279h34.5h13.8h138h55.2h20.7h75.9h193.2h41.4M696.5 285h6.9h200.1h27.6h13.8h6.9h13.8h6.9h6.9h6.9h20.7h34.5h13.8h13.8h6.9h13.8h151.8M30.6 291h683.1h55.2h124.2h6.9h13.8h6.9h6.9h27.6h13.8h13.8h6.9h20.7h6.9h13.8h13.8h34.5h13.8h151.8M27.2 297h6.9h662.4h6.9h6.9h117.3h13.8h6.9h27.6h13.8h13.8h6.9h6.9h6.9h6.9h6.9h6.9h13.8h27.6h6.9h13.8h6.9h34.5h6.9h41.4h6.9M23.7 303h6.9h531.3h6.9h20.7h6.9h27.6h75.9h89.7h48.3h13.8h62.1h6.9h6.9h20.7h6.9h62.1h6.9h13.8h13.8h13.8h6.9h20.7M565.4 309h6.9h13.8h6.9h6.9h13.8h6.9h179.4h27.6h6.9h48.3h62.1h6.9h41.4h6.9h13.8h13.8h6.9h6.9h6.9h6.9h6.9h6.9h27.6h6.9h207h55.2M51.3 315h517.5h34.5h27.6h6.9h6.9h69h20.7h62.1h13.8h6.9h20.7h138h13.8h27.6h27.6h6.9h6.9h6.9h6.9h20.7h13.8M41.0 321h6.9h6.9h6.9h510.6h6.9h41.4h6.9h6.9h6.9h6.9h96.6h55.2h6.9h165.6h6.9h13.8h6.9h41.4h13.8h27.6h6.9h6.9h6.9h62.1h75.9h82.8h6.9h13.8h213.9M37.5 327h13.8h6.9h6.9h496.8h6.9h6.9h6.9h6.9h20.7h6.9h13.8h6.9h6.9h6.9h6.9h138h20.7h27.6h6.9h124.2h6.9h6.9h6.9h6.9h27.6h6.9h6.9h13.8h6.9h41.4h248.4h172.5M13.4 333h27.6h20.7h503.7h6.9h6.9h6.9h6.9h6.9h6.9h6.9h6.9h6.9h6.9h6.9h6.9h20.7h117.3h6.9h13.8h6.9h6.9h6.9h20.7h124.2h6.9h13.8h6.9h6.9h6.9h6.9h20.7h6.9h27.6h13.8h6.9h234.6h6.9h124.2M9.9 339h6.9h20.7h6.9h6.9h6.9h503.7h6.9h6.9h6.9h6.9h6.9h6.9h6.9h6.9h6.9h6.9h6.9h6.9h6.9h6.9h13.8h6.9h48.3h41.4h13.8h6.9h13.8h13.8h6.9h41.4h110.4h6.9h69h303.6M41.0 345h6.9h6.9h510.6h13.8h6.9h6.9h20.7h6.9h6.9h6.9h13.8h13.8h6.9h6.9h6.9h89.7h27.6h6.9h6.9h13.8h234.6h20.7h6.9M9.9 351h41.4h510.6h6.9h48.3h6.9h6.9h27.6h6.9h6.9h82.8h13.8h20.7h6.9h27.6h13.8h34.5h96.6h124.2h6.9h6.9h469.2M572.3 357h6.9h6.9h13.8h6.9h6.9h6.9h6.9h6.9h6.9h6.9h6.9h6.9h6.9h800.4M16.8 363h27.6h13.8h6.9h496.8h6.9h20.7h6.9h6.9h6.9h13.8h6.9h6.9h6.9h6.9h6.9h6.9h648.6h6.9h6.9h193.2M47.9 369h27.6h510.6h13.8h6.9h6.9h13.8h6.9h6.9h13.8h13.8h124.2h13.8h6.9h6.9h489.9h6.9h6.9h6.9M9.9 375h6.9h13.8h6.9h6.9h13.8h6.9h6.9h503.7h6.9h6.9h6.9h6.9h6.9h6.9h6.9h6.9h6.9h27.6h131.1h6.9h20.7h6.9h62.1h414h6.9h20.7M572.3 381h6.9h6.9h6.9h13.8h6.9h6.9h6.9h6.9h6.9h6.9h13.8h6.9h138h6.9h13.8h6.9h41.4h434.7h6.9h6.9h6.9M582.6 387h20.7h6.9h13.8h6.9h6.9h6.9h6.9h6.9h6.9h6.9h82.8h48.3h6.9h496.8h13.8h6.9M593.0 393h6.9h6.9h13.8h6.9h6.9h6.9h13.8h6.9h6.9h75.9h6.9h48.3h6.9h13.8h6.9h131.1h365.7M589.5 399h6.9h6.9h6.9h13.8h6.9h6.9h6.9h6.9h6.9h6.9h75.9h13.8h48.3h6.9h13.8h489.9h96.6h82.8M593.0 405h6.9h6.9h6.9h6.9h6.9h6.9h6.9h13.8h6.9h89.7h20.7h48.3h331.2h151.8h6.9h6.9M589.5 411h6.9h13.8h6.9h6.9h13.8h6.9h6.9h6.9h6.9h96.6h379.5M613.7 417h6.9h6.9h6.9h6.9h6.9h6.9h6.9h6.9h6.9h82.8h6.9h20.7h496.8h6.9M575.7 423h6.9h34.5h6.9h6.9h13.8h13.8h13.8h6.9h220.8h365.7h6.9h13.8h13.8h27.6h20.7M54.8 429h20.7h503.7h48.3h13.8h13.8h6.9h27.6h6.9h441.6h20.7h41.4h103.5h13.8h6.9h255.3M37.5 435h6.9h27.6h510.6h41.4h6.9h6.9h6.9h6.9h6.9h13.8h6.9h13.8h62.1h524.4h6.9h6.9h6.9h20.7M47.9 441h20.7h579.6h6.9h13.8h6.9h82.8h524.4h41.4h20.7M617.1 447h6.9h6.9h6.9h34.5h6.9h6.9h131.1h455.4h6.9h6.9h27.6h13.8h6.9M41.0 453h627.9h6.9h13.8h207h393.3h6.9h27.6h6.9M37.5 459h6.9h27.6h696.9h289.8h220.8h6.9h13.8h6.9h6.9h213.9M41.0 465h13.8h6.9h6.9h6.9h607.2h593.4h41.4M58.2 471h6.9h6.9h607.2h6.9h34.5h227.7h144.9h220.8h13.8h6.9h20.7h6.9M61.7 477h6.9h6.9h614.1h27.6h552h6.9h27.6h20.7h13.8h20.7h6.9h20.7M686.1 483h6.9h20.7h372.6h6.9h172.5h13.8h6.9h6.9h6.9h6.9h6.9h6.9h13.8h6.9h6.9h6.9h6.9h13.8M689.6 489h6.9h34.5h20.7h55.2h434.7h6.9h13.8h13.8h20.7h6.9h6.9h6.9h6.9h27.6h6.9h6.9M727.5 495h27.6h483h27.6h20.7h41.4h6.9h6.9h13.8M1234.7 501h6.9h6.9h55.2h6.9h13.8M1231.2 507h34.5h6.9h27.6h13.8h6.9h20.7h6.9h6.9h6.9h20.7h20.7h20.7M717.2 513h165.6h317.4h34.5h13.8h20.7h62.1h13.8h20.7h6.9h6.9h27.6M1327.8 519h13.8h6.9h13.8h55.2h6.9M731.0 525h179.4h331.2h13.8h6.9h6.9h6.9h48.3h13.8h27.6h6.9h48.3h20.7M734.4 531h510.6h27.6h6.9h6.9h34.5h6.9h6.9h34.5h13.8h27.6h27.6h6.9h6.9M737.9 537h248.4h255.3h6.9h13.8h34.5h41.4h6.9h20.7h6.9h13.8h6.9h34.5h55.2h20.7M775.8 543h213.9h207h55.2h27.6h6.9h41.4h13.8h6.9h13.8h6.9h62.1h48.3h13.8h6.9M779.3 549h41.4h6.9h434.7h6.9h6.9h75.9h13.8h20.7h13.8h69h6.9h13.8h6.9M1334.7 555h20.7h6.9h27.6h6.9h6.9h6.9M1082.9 561h269.1h6.9h55.2h13.8M693.0 567h27.6M737.9 573h6.9h448.5h69M748.2 579h517.5h6.9M751.7 585h6.9h13.8h6.9h489.9h6.9h6.9M720.6 591h27.6h27.6h496.8h6.9h13.8M717.2 597h27.6h276h41.4h220.8h13.8M693.0 603h13.8h579.6h6.9M627.5 609h27.6h6.9h6.9h34.5h6.9h13.8h27.6h552M665.4 615h34.5M648.2 621h6.9h6.9h34.5h6.9h6.9h62.1h276h13.8h62.1h48.3M665.4 627h6.9h48.3h407.1h20.7h6.9h6.9h13.8h13.8h6.9h6.9M710.3 633h6.9h6.9h172.5h227.7h13.8h13.8h13.8h6.9h6.9M1107.0 639h13.8h6.9h6.9h20.7h13.8h6.9h6.9M724.1 645h400.2h6.9h6.9h6.9h13.8h20.7M1134.6 651h6.9h27.6h6.9M1138.1 657h6.9M1527.9 663M1565.9 669M1286.4 675M1565.9 681M1055.2 693M1590.0 699M1055.2 705h6.9h96.6h372.6M1072.5 711h75.9h379.5h6.9M1200.2 717h324.3h6.9h6.9h6.9M1079.4 723h82.8h345h13.8h6.9h6.9h6.9h6.9h6.9h13.8M1496.9 729h13.8h6.9h6.9h6.9h6.9h13.8h20.7h6.9h6.9h6.9M1093.2 735h393.3h6.9h6.9h6.9h6.9h6.9h6.9M1179.5 741h296.7h6.9h6.9h6.9h6.9h6.9h20.7h41.4h6.9h6.9M1479.6 747h6.9h6.9h6.9h6.9h6.9h13.8h6.9h20.7h6.9h20.7M1089.8 753h62.1h13.8h6.9h310.5h6.9h6.9h6.9h6.9h6.9h13.8h27.6h6.9h6.9h13.8h6.9M1134.6 759h20.7h324.3h6.9h6.9h6.9h6.9h6.9h6.9h6.9h6.9h6.9h6.9h13.8h13.8h6.9M1131.2 765h6.9h20.7h6.9h317.4h6.9h6.9h6.9h6.9h6.9h6.9h6.9h6.9h6.9h20.7h6.9h6.9h6.9h6.9M1134.6 771h27.6h13.8h6.9h296.7h6.9h6.9h13.8h6.9h6.9h6.9h6.9h6.9h27.6h6.9h6.9h6.9M1158.8 777h324.3h6.9h6.9h6.9h6.9h6.9h6.9h6.9h6.9h20.7h34.5M1141.5 783h345h6.9h6.9h27.6h6.9h6.9h6.9h6.9h6.9h20.7h6.9M1483.1 789h6.9h27.6h20.7h6.9h6.9h6.9h20.7h6.9h6.9M1479.6 795h6.9h34.5h13.8h6.9h6.9h6.9h6.9h13.8h6.9h6.9M1179.5 801h296.7h6.9h6.9h6.9h27.6h6.9h6.9h6.9h6.9h6.9h13.8h6.9h6.9h6.9M1162.2 807h62.1h262.2h6.9h34.5h6.9h6.9h13.8h6.9h13.8h6.9h6.9M1490.0 813h6.9h6.9h6.9h6.9h6.9h13.8h6.9h6.9h6.9h6.9h6.9h6.9h6.9M1162.2 819h393.3M1555.5 831h6.9M1538.3 837h20.7h6.9h6.9h6.9h6.9h6.9M1514.1 843h34.5h13.8h6.9h6.9h6.9h6.9M1510.7 849h6.9h48.3h13.8h6.9M1507.2 855h13.8h6.9h6.9h6.9h13.8h6.9h6.9h13.8M1531.4 861h6.9h13.8M1514.1 867h13.8h20.7h6.9h6.9h13.8M1517.6 873h34.5M1521.0 879M1510.7 885h6.9h6.9h6.9M1510.7 897h6.9M1514.1 903M1503.8 909h13.8M1458.9 915h48.3M1462.4 921h13.8h27.6" fill="none" marker-start="url(#hC)" marker-mid="url(#hC)" marker-end="url(#hC)"/>
<path d="M72.0 219M924.2 273h13.8M934.5 279h13.8h20.7M896.6 285h13.8h6.9h41.4M886.2 291h20.7h69h62.1M593.0 297h372.6h55.2h6.9h62.1M962.1 303h6.9h117.3h13.8M958.7 309h6.9h13.8h41.4M58.2 315h538.2h207h158.7h6.9h13.8h13.8h13.8h20.7h6.9M599.9 321h213.9h69h20.7h6.9h55.2h20.7h20.7h6.9h13.8h6.9h13.8h13.8h6.9M596.4 327h207h110.4h6.9h20.7h27.6h55.2h27.6h20.7h6.9h6.9h6.9h255.3M54.8 333h600.3h144.9h82.8h41.4h62.1h48.3h20.7h6.9h6.9h34.5h248.4M665.4 339h255.3h13.8h13.8h48.3h34.5h13.8h41.4h6.9M599.9 345h41.4h13.8h262.2h62.1h96.6h20.7h6.9M906.9 351h6.9h41.4h62.1h55.2h13.8M565.4 357h27.6h289.8h75.9h6.9h20.7h96.6M872.4 363h6.9h82.8h110.4h6.9h6.9h48.3h20.7M20.2 369h13.8h6.9h579.6h27.6h207h13.8h6.9h48.3h55.2h20.7h41.4h34.5h6.9h6.9h34.5h34.5h34.5M658.5 375h193.2h34.5h248.4h41.4M820.7 381h138h48.3h48.3h55.2h124.2h20.7M596.4 387h20.7h200.1h27.6h27.6h69h48.3h6.9h62.1h131.1h6.9h117.3M613.7 393h200.1h55.2h441.6h6.9h20.7M989.7 399h55.2h6.9h27.6h82.8M744.8 405h62.1h103.5h13.8h89.7h13.8h20.7h55.2h6.9M913.8 411h27.6h69h6.9h13.8h27.6h41.4h20.7h75.9M1007.0 417h6.9h6.9M637.8 423h27.6h358.8h69M620.6 429h13.8h13.8h20.7h248.4h96.6h20.7h55.2h179.4h6.9h20.7M665.4 435h20.7h179.4h6.9h144.9h172.5M61.7 441h600.3h34.5h186.3h207h103.5h55.2h6.9M44.4 447h621h27.6h345h6.9h6.9h200.1h6.9h6.9M655.1 453h6.9h20.7h200.1h269.1h13.8h6.9h34.5h34.5h6.9h6.9h6.9M30.6 459h27.6h600.3h241.5h13.8h234.6h6.9h13.8h62.1h13.8h6.9h69M875.9 465h34.5h20.7h96.6h6.9h117.3h27.6h144.9h6.9M872.4 471h69h82.8h13.8h13.8h207h62.1M882.8 477h289.8h138h6.9h13.8h13.8h6.9M727.5 483h379.5M869.0 489h213.9h20.7h55.2h62.1h34.5M810.3 495h34.5h27.6h165.6h13.8h13.8h13.8h27.6h6.9h41.4h103.5h41.4h48.3M882.8 501h117.3h6.9h41.4h6.9h48.3h6.9h158.7h6.9h6.9h6.9h62.1M831.0 507h62.1h103.5h41.4h6.9h27.6h41.4h62.1M896.6 513h20.7h20.7h20.7h27.6h55.2h27.6h6.9h6.9h6.9h89.7M720.6 519h186.3h13.8h20.7h41.4h20.7h41.4h13.8h13.8h20.7h276M737.9 525h213.9h55.2h13.8h20.7h20.7h110.4M741.3 531h165.6h20.7h34.5h41.4h6.9h13.8h41.4h62.1h41.4h6.9h6.9h69h6.9M827.6 537h124.2h6.9h48.3h75.9h13.8h158.7M810.3 543h41.4h110.4h75.9h6.9h6.9h27.6M717.2 549h89.7h241.5h89.7h55.2h186.3M879.3 555h151.8h20.7M855.2 561h13.8h6.9h138h27.6h303.6M748.2 567h62.1h62.1h6.9h41.4h193.2h151.8M806.9 573h110.4h20.7h117.3h6.9h207M824.1 579h6.9h110.4h62.1h34.5h20.7h220.8M800.0 585h34.5h20.7h13.8h117.3h6.9h75.9h110.4M727.5 591h82.8h6.9h20.7h41.4h110.4h6.9h89.7h89.7M724.1 597h193.2h82.8h75.9h13.8h20.7M686.1 603h34.5h151.8h75.9h41.4h6.9h6.9h62.1h6.9h13.8M689.6 609h6.9h34.5h6.9h124.2h110.4h6.9h13.8h13.8h6.9h6.9h6.9h62.1M651.6 615h20.7h34.5h27.6h6.9h34.5h89.7h20.7h62.1h27.6h13.8h6.9h20.7M737.9 621h20.7h62.1h6.9h48.3h6.9h41.4h6.9h69h6.9h6.9h69h82.8M824.1 627h20.7h20.7h6.9h13.8h103.5h6.9h69h69M737.9 633h82.8h13.8h6.9h6.9h186.3h13.8h69h13.8M734.4 639h96.6h48.3h55.2h89.7h207M931.1 645h13.8h220.8M920.7 651h124.2h103.5M910.4 657h6.9h6.9h6.9h13.8h227.7M596.4 663h331.2h6.9h6.9h6.9M951.8 669h6.9M962.1 675M903.5 681h48.3M1048.4 705h103.5M975.9 711M1076.0 717M1514.1 723M1565.9 729M1100.1 735h469.2M1089.8 741h434.7h27.6h6.9h6.9M1086.3 747h483M1524.5 753h55.2M1555.5 759M1559.0 765M1148.4 771h6.9h400.2M1572.8 789M1569.3 795M1186.4 801h379.5M1500.3 807M1158.8 813M1576.2 819M1531.4 837M1534.8 843M1507.2 879h34.5M1476.2 909h34.5M1465.8 915M1469.3 921" fill="none" marker-start="url(#hO)" marker-mid="url(#hO)" marker-end="url(#hO)"/>
<path d="M920.7 279M941.4 291h20.7M893.1 315h55.2h75.9M872.4 327h20.7h6.9h55.2h6.9M903.5 333h41.4h6.9h13.8h62.1h55.2M872.4 339h20.7h34.5h27.6h48.3h6.9h6.9h6.9h13.8h41.4h20.7h6.9M869.0 345h6.9h48.3h6.9h13.8h6.9h6.9h41.4h13.8h6.9h6.9h6.9h6.9h6.9h138h6.9M879.3 351h6.9h89.7h13.8h6.9h6.9h6.9h20.7h6.9h6.9h6.9h6.9h6.9h55.2h117.3h20.7M855.2 357h6.9h6.9h6.9h27.6h6.9h13.8h69h6.9h6.9h6.9h6.9h6.9h6.9h6.9h6.9h6.9h6.9h6.9h6.9h13.8h6.9h6.9h55.2M851.7 363h6.9h62.1h6.9h27.6h13.8h13.8h6.9h6.9h6.9h6.9h6.9h6.9h6.9h6.9h6.9h6.9h6.9h6.9h34.5h6.9h13.8h55.2M882.8 369h13.8h6.9h34.5h13.8h34.5h6.9h13.8h6.9h6.9h6.9h6.9h13.8h6.9h13.8h34.5h13.8h82.8M872.4 375h6.9h20.7h62.1h6.9h6.9h6.9h6.9h6.9h6.9h6.9h6.9h6.9h6.9h6.9h6.9h6.9h6.9h6.9h6.9h6.9h6.9h6.9h6.9h13.8h6.9h27.6h6.9M869.0 381h13.8h13.8h41.4h34.5h13.8h6.9h6.9h13.8h6.9h6.9h6.9h6.9h6.9h13.8h6.9h6.9h6.9h6.9h6.9h6.9h13.8M851.7 387h13.8h13.8h103.5h20.7h6.9h6.9h6.9h6.9h6.9h6.9h6.9h13.8h6.9h6.9h13.8h6.9h138M855.2 393h20.7h6.9h124.2h6.9h6.9h6.9h6.9h20.7h6.9h6.9h6.9h6.9h27.6h27.6M982.8 399h27.6h6.9h6.9h6.9h27.6h6.9h6.9h13.8h89.7h27.6h41.4M958.7 405h20.7h13.8h13.8h13.8h13.8h6.9h13.8h6.9h6.9h6.9h6.9h6.9h6.9h20.7h6.9h6.9h34.5h13.8M982.8 411h6.9h6.9h6.9h20.7h27.6h13.8h6.9h20.7h20.7h13.8h20.7h96.6M862.1 417h41.4h89.7h6.9h27.6h6.9h6.9h75.9M906.9 423h82.8h6.9h6.9h27.6h6.9h6.9h103.5h6.9h6.9h13.8h20.7h20.7h41.4M682.7 429h200.1h117.3h27.6h144.9h20.7h62.1h6.9M879.3 435h6.9h27.6h96.6h13.8h89.7h55.2h6.9h6.9h34.5h34.5h6.9h6.9h6.9M924.2 441h20.7h6.9h55.2h20.7h55.2h27.6h48.3h6.9h13.8h82.8h6.9h6.9M658.5 447h41.4h193.2h20.7h6.9h96.6h41.4h124.2M903.5 453h117.3h6.9h13.8h172.5h55.2M1024.2 459h13.8h55.2h27.6h138h6.9M896.6 465h41.4h13.8h69h20.7h13.8h27.6h75.9h89.7h6.9h6.9h6.9M886.2 471h6.9h6.9h27.6h6.9h110.4h27.6h13.8h82.8h48.3h34.5h13.8M931.1 477h96.6h6.9h6.9h13.8h20.7h13.8h41.4h20.7h27.6h6.9h55.2h13.8h6.9M1017.3 483h6.9h13.8h6.9h6.9h6.9h6.9h69h13.8h20.7h6.9h69M875.9 489h55.2h89.7h6.9h20.7h13.8h27.6h6.9h69M982.8 495h20.7h6.9h13.8h6.9h13.8h41.4h13.8h20.7h62.1M965.6 501h13.8h6.9h34.5h6.9h6.9h6.9h27.6h27.6h75.9M824.1 507h131.1h6.9h6.9h13.8h20.7h13.8h6.9h186.3M724.1 513h151.8h55.2h34.5h6.9h27.6h27.6h6.9h75.9h6.9M817.2 519h6.9h6.9h82.8h20.7h20.7h6.9h34.5h20.7h186.3h6.9M820.7 525h6.9h27.6h62.1h6.9h48.3h55.2h6.9h20.7h13.8h82.8h41.4h13.8M886.2 531h27.6h6.9h48.3h13.8h6.9h27.6h13.8h6.9h20.7h20.7h13.8h41.4h13.8h6.9h34.5h6.9M813.8 537h6.9h20.7h6.9h75.9h41.4h6.9h41.4h6.9h13.8h20.7M831.0 543h138h6.9h20.7h13.8h20.7h27.6h6.9h6.9h13.8h55.2h34.5M813.8 549h41.4h172.5h13.8h34.5h6.9h6.9h110.4M713.7 555h103.5h6.9h13.8h48.3h6.9h6.9h117.3h27.6h34.5h13.8h27.6M813.8 561h27.6h20.7h20.7h6.9h6.9h20.7h6.9h96.6h27.6h13.8h13.8h20.7h69M796.5 567h20.7h6.9h20.7h6.9h6.9h6.9h27.6h6.9h27.6h6.9h151.8M820.7 573h20.7h6.9h6.9h20.7h6.9h6.9h6.9h6.9h20.7h6.9h82.8h6.9h20.7h6.9h55.2M803.4 579h34.5h6.9h6.9h27.6h6.9h6.9h6.9h6.9h13.8h6.9h6.9h13.8h48.3h20.7h34.5h13.8h6.9M841.4 585h20.7h13.8h6.9h6.9h6.9h6.9h6.9h6.9h6.9h6.9h20.7h6.9h20.7h20.7h6.9h6.9h6.9h6.9h6.9h6.9h6.9h6.9h6.9h13.8M796.5 591h34.5h13.8h6.9h6.9h6.9h6.9h13.8h6.9h6.9h6.9h6.9h6.9h6.9h27.6h6.9h13.8h6.9h20.7h6.9h6.9h6.9h6.9h6.9h6.9h6.9h6.9h6.9h6.9h110.4M689.6 597h117.3h6.9h6.9h13.8h6.9h6.9h6.9h6.9h6.9h6.9h6.9h6.9h6.9h6.9h6.9h13.8h6.9h6.9h13.8h34.5h6.9h13.8h6.9h13.8h13.8h6.9h6.9h13.8h34.5M727.5 603h110.4h6.9h6.9h6.9h6.9h13.8h6.9h6.9h20.7h6.9h6.9h6.9h6.9h69h6.9h6.9h13.8h6.9h6.9h6.9h34.5M820.7 609h6.9h6.9h6.9h6.9h6.9h13.8h6.9h6.9h6.9h27.6h6.9h6.9h6.9h20.7h41.4h41.4M796.5 615h6.9h20.7h6.9h20.7h6.9h13.8h6.9h55.2h20.7h48.3h6.9h27.6h6.9M744.8 621h55.2h6.9h27.6h13.8h20.7h69h55.2h41.4h6.9h117.3M810.3 627h20.7h20.7h27.6h55.2h6.9h62.1h6.9h20.7h6.9h6.9h6.9h6.9M731.0 633h75.9h6.9h13.8h27.6h6.9h6.9h6.9h6.9h48.3h6.9h62.1h6.9h13.8h6.9M796.5 639h6.9h6.9h6.9h6.9h13.8h6.9h6.9h20.7h20.7h110.4h6.9h6.9M800.0 645h6.9h6.9h6.9h6.9h6.9h6.9M941.4 651h110.4M938.0 657h110.4h6.9M900.0 663h6.9h6.9h6.9M896.6 669h6.9h6.9h6.9h6.9h6.9h6.9h6.9M893.1 675h6.9h6.9h6.9h6.9h6.9h6.9h6.9h6.9h6.9M896.6 681h13.8h27.6h6.9h13.8h6.9M920.7 687h6.9h6.9h6.9h6.9h6.9h6.9h6.9M924.2 693h6.9h13.8h6.9h6.9h6.9h6.9M913.8 699h13.8h6.9h6.9h6.9h6.9h6.9h6.9h6.9M910.4 705h13.8h6.9h6.9h6.9h6.9h6.9h6.9h6.9M913.8 711h13.8h13.8h6.9h6.9h6.9h6.9M1086.3 735M1082.9 741h13.8M1100.1 747" fill="none" marker-start="url(#hB)" marker-mid="url(#hB)" marker-end="url(#hB)"/>
<g fill="rgba(36,200,255,0.55)" stroke="#c48a3e" stroke-width="0.9">
<circle cx="100" cy="3" r="19"/>
<circle cx="764.7" cy="321.9" r="19.1"/>
<circle cx="898" cy="347.5" r="19.5"/>
<circle cx="1042.3" cy="385.8" r="19.5"/>
<circle cx="1006" cy="426" r="18.7"/>
<circle cx="990.5" cy="446.5" r="19.2"/>
<circle cx="1242" cy="394.8" r="19.5"/>
<circle cx="1326.6" cy="382" r="19.5"/>
<circle cx="1254.6" cy="506.6" r="19.5"/>
<circle cx="988" cy="521" r="19"/>
<circle cx="866.3" cy="546.5" r="19"/>
<circle cx="844" cy="594" r="19"/>
<circle cx="815.6" cy="628.6" r="19"/>
<circle cx="774" cy="638" r="19"/>
<circle cx="724.3" cy="647" r="19"/>
<circle cx="662.7" cy="671.5" r="19.3"/>
<circle cx="601" cy="622" r="19.5"/>
<circle cx="915" cy="639.6" r="19.3"/>
<circle cx="973.5" cy="697.5" r="19.5"/>
<circle cx="1174.5" cy="754" r="19.5"/>
<circle cx="1479" cy="724" r="19.5"/>
<circle cx="1080.5" cy="896" r="19.5"/>
<circle cx="963.5" cy="900" r="19.5"/>
<circle cx="71.4" cy="498.6" r="17"/>
<circle cx="95" cy="538" r="19"/>
<circle cx="603.7" cy="372.5" r="20"/>
</g><g fill="#26b4f2">
<circle cx="100" cy="3" r="3.6"/>
<circle cx="764.7" cy="321.9" r="3.6"/>
<circle cx="898" cy="347.5" r="3.6"/>
<circle cx="1041.5" cy="385.5" r="3.6"/>
<circle cx="1006" cy="426" r="3.6"/>
<circle cx="990" cy="446.5" r="3.6"/>
<circle cx="1242.4" cy="395" r="3.6"/>
<circle cx="1326.6" cy="382" r="3.6"/>
<circle cx="1253.7" cy="506.4" r="3.6"/>
<circle cx="987.5" cy="520.5" r="3.6"/>
<circle cx="866.3" cy="546.5" r="3.6"/>
<circle cx="844" cy="594" r="3.6"/>
<circle cx="815" cy="628" r="3.6"/>
<circle cx="774" cy="638" r="3.6"/>
<circle cx="724.3" cy="647" r="3.6"/>
<circle cx="662.7" cy="671.5" r="3.6"/>
<circle cx="601" cy="622" r="3.6"/>
<circle cx="915" cy="639.6" r="3.6"/>
<circle cx="973.4" cy="696.8" r="3.6"/>
<circle cx="1174.8" cy="754.3" r="3.6"/>
<circle cx="1479" cy="724.8" r="3.6"/>
<circle cx="1080.5" cy="896" r="3.6"/>
<circle cx="963.5" cy="900" r="3.6"/>
<circle cx="71.4" cy="498.6" r="3.6"/>
<circle cx="604" cy="372" r="3.6"/>
</g><g fill="#111" stroke="#fff" stroke-width="1.6">
<circle cx="764.2" cy="321.2" r="2.4"/>
<circle cx="1045.6" cy="387.5" r="2.4"/>
<circle cx="997.5" cy="518.7" r="2.4"/>
<circle cx="817.7" cy="630" r="2.4"/>
<circle cx="723.5" cy="647.8" r="2.4"/>
<circle cx="661.7" cy="673" r="2.4"/>
<circle cx="1327" cy="382" r="2.4"/>
<circle cx="1172.8" cy="747.5" r="2.4"/>
<circle cx="1481" cy="725.7" r="2.4"/>
<circle cx="1082.4" cy="898.6" r="2.4"/>
<circle cx="71.4" cy="498.6" r="2.4"/>
</g><g fill="#fff" stroke="#111" stroke-width="1">
<circle cx="1244.5" cy="395" r="2.7"/>
<circle cx="975" cy="704" r="2.7"/>
<circle cx="1097" cy="739" r="2.7"/>
</g>
</svg>
<div class="lbl" style="left:169.0px;top:-2.6px;font-size:17px;line-height:17px;color:#c9c9cb">Mauritania</div>
<div class="lbl" style="left:-3.0px;top:90.1px;font-size:14px;line-height:14px;color:#cbcee4">uakchott</div>
<div class="lbl" style="left:-2.0px;top:259.6px;font-size:17px;line-height:17px;color:#c9c9cb">Senegal</div>
<div class="lbl" style="left:-1.0px;top:312.0px;font-size:16.5px;line-height:16.5px;color:#c9c9cb">a</div>
<div class="lbl" style="left:-3.0px;top:370.0px;font-size:16.5px;line-height:16.5px;color:#c9c9cb">a-Bissau</div>
<div class="lbl" style="left:569.0px;top:109.8px;font-size:18px;line-height:18px;color:#c9c9cb">Mali</div>
<div class="lbl" style="left:552.0px;top:162.2px;font-size:10.4px;line-height:10.4px;color:#cbcee4">nbuktu</div>
<div class="lbl" style="left:1051.0px;top:127.7px;font-size:17.5px;line-height:17.5px;color:#c9c9cb">Niger</div>
<div class="lbl" style="left:1459.6px;top:238.6px;font-size:16.5px;line-height:16.5px;color:#c9c9cb">Chad</div>
<div class="lbl" style="left:556.0px;top:350.3px;font-size:17px;line-height:17px;color:#c9c9cb">Burkina</div>
<div class="lbl" style="left:568.6px;top:371.1px;font-size:17px;line-height:17px;color:#c9c9cb">Faso</div>
<div class="lbl" style="left:764.8px;top:306.7px;font-size:15px;line-height:15px;color:#cbcee4">Niamey</div>
<div class="lbl" style="left:1046.0px;top:374.3px;font-size:15px;line-height:15px;color:#cbcee4">Kano</div>
<div class="lbl" style="left:1175.0px;top:385.7px;font-size:11.7px;line-height:11.7px;color:#cbcee4">Maiduguri</div>
<div class="lbl" style="left:1328.0px;top:359.3px;font-size:15px;line-height:15px;color:#cbcee4">N'Djamena</div>
<div class="lbl" style="left:988.0px;top:480.3px;font-size:16.7px;line-height:16.7px;color:#c9c9cb">Nigeria</div>
<div class="lbl" style="left:999.6px;top:505.7px;font-size:14px;line-height:14px;color:#cbcee4">Abuja</div>
<div class="lbl" style="left:743.0px;top:478.3px;font-size:16.2px;line-height:16.2px;color:#c9c9cb">Benin</div>
<div class="lbl" style="left:688.0px;top:521.6px;font-size:15.8px;line-height:15.8px;color:#c9c9cb">Togo</div>
<div class="lbl" style="left:585.5px;top:553.1px;font-size:16.4px;line-height:16.4px;color:#c9c9cb">Ghana</div>
<div class="lbl" style="left:723.6px;top:635.3px;font-size:15px;line-height:15px;color:#cbcee4">Lomé</div>
<div class="lbl" style="left:663.5px;top:661.6px;font-size:14.2px;line-height:14.2px;color:#cbcee4">Accra</div>
<div class="lbl" style="left:818.0px;top:618.8px;font-size:14.4px;line-height:14.4px;color:#cbcee4">Lagos</div>
<div class="lbl" style="left:974.5px;top:693.6px;font-size:11.7px;line-height:11.7px;color:#cbcee4">Port Harcourt</div>
<div class="lbl" style="left:1034.0px;top:725.7px;font-size:14.5px;line-height:14.5px;color:#cbcee4">Douala</div>
<div class="lbl" style="left:1178.5px;top:655.0px;font-size:17px;line-height:17px;color:#c9c9cb">Cameroon</div>
<div class="lbl" style="left:1529.0px;top:593.2px;font-size:17px;line-height:17px;color:#c9c9cb">Central</div>
<div class="lbl" style="left:1529.0px;top:614.6px;font-size:17px;line-height:17px;color:#c9c9cb">African</div>
<div class="lbl" style="left:1523.0px;top:635.6px;font-size:17px;line-height:17px;color:#c9c9cb">Republic</div>
<div class="lbl" style="left:1174.6px;top:735.6px;font-size:14.6px;line-height:14.6px;color:#cbcee4">Yaoundé</div>
<div class="lbl" style="left:1483.0px;top:714.9px;font-size:14.3px;line-height:14.3px;color:#cbcee4">Bangui</div>
<div class="lbl" style="left:1083.6px;top:886.9px;font-size:14.3px;line-height:14.3px;color:#cbcee4">Libreville</div>
<div class="lbl" style="left:1081.0px;top:823.1px;font-size:16.4px;line-height:16.4px;color:#c9c9cb">Equatorial</div>
<div class="lbl" style="left:1093.0px;top:844.1px;font-size:17px;line-height:17px;color:#c9c9cb">Guinea</div>
<div class="lbl" style="left:917.0px;top:883.3px;font-size:15px;line-height:15px;color:#c9c9cb">São Tomé</div>
<div class="lbl" style="left:907.0px;top:902.9px;font-size:14.8px;line-height:14.8px;color:#c9c9cb">and Príncipe</div>
<div class="lbl" style="left:-29.0px;top:110.0px;font-size:12px;line-height:14.399999999999999px;color:#d2d4e8;font-family:'DejaVu Sans',sans-serif;font-weight:normal">نواكشوط</div>
<div class="lbl" style="left:1328.0px;top:380.5px;font-size:12.5px;line-height:15.0px;color:#d2d4e8;font-family:'DejaVu Sans',sans-serif;font-weight:normal">إنجامينا</div>
</div>

<div class="btn" style="left:1540px;top:24px"><svg width="37" height="37" viewBox="0 0 37 37"><rect x="10.5" y="12.5" width="16" height="12" fill="none" stroke="#6a6a6a" stroke-width="1.3"/><path d="M21.5 12.5v12M21.5 16.5h5M21.5 20.5h5" stroke="#6a6a6a" stroke-width="1.3" fill="none"/></svg></div>
<div class="btn" style="left:1541px;top:885px;height:36px;width:36px"><svg width="36" height="36" viewBox="0 0 36 36"><path d="M18 10.5l7 5.2-7 5.2-7-5.2z" fill="none" stroke="#6a6a6a" stroke-width="1.3" stroke-linejoin="round"/><path d="M11 19.2l7 5.2 7-5.2" fill="none" stroke="#6a6a6a" stroke-width="1.3" stroke-linejoin="round"/></svg></div>

<div id="zoom"><div style="top:35px"></div><div style="top:71px"></div>
<svg width="36" height="107" style="position:absolute;left:0;top:0"><path d="M18.5 13v10M13.5 18h10" stroke="#777" stroke-width="1.4"/><path d="M13.5 89.5h10" stroke="#777" stroke-width="1.4"/><text x="18.5" y="58" text-anchor="middle" font-family="Liberation Sans" font-size="14.5" fill="#6a6a6a">5</text></svg></div>

<div id="attr"><span style="left:6px">Keyboard shortcuts</span><span style="left:111px;top:0;width:1px;height:15px;background:#555"></span><span style="left:118px">Map Data ©2025 Inst. Geogr. Nacional</span><span style="left:317px;top:0;width:1px;height:15px;background:#555"></span><span style="left:324px">Terms</span></div>

<div id="panel">
<div class="hdr">AI Agent</div>
<svg width="483" height="60" style="position:absolute;left:0;top:0">
<circle cx="371" cy="21.8" r="1.6" fill="#666"/><circle cx="371" cy="27" r="1.6" fill="#666"/><circle cx="371" cy="32.1" r="1.6" fill="#666"/>
<path d="M412.5 26l4.5-4.5M413.5 21.5h3.8v3.8M410.5 28l-4.5 4.5M405.7 28.8v3.8h3.8" stroke="#666" stroke-width="1.4" fill="none"/>
<path d="M450.5 21.5l10.5 10.5M461 21.5l-10.5 10.5" stroke="#666" stroke-width="1.4"/>
</svg>
<div class="bub" style="left:54px;top:63px;width:405px;height:57px"></div>
<div class="t" style="left:69px;top:70px">Which are the top 10 airports to deploy a team from to<br>have the greatest impact on medical deserts</div>
<div class="t" style="left:18px;top:130px">I've turned on the Airports layer. How far do you foresee<br>traveling from that airport or city in kilometers?</div>
<div class="bub" style="left:392px;top:184px;width:67px;height:35px"></div>
<div class="t" style="left:406px;top:190px">50km</div>
<div class="t" style="left:18px;top:228px">I've added 50km buffers around all airports and displayed<br>them on the map. Do these buffer distances look good to<br>you?</div>
<div class="bub" style="left:353px;top:305px;width:106px;height:35px"></div>
<div class="t" style="left:367px;top:311px">yes perfect</div>
<div class="t" style="left:18px;top:349px">Here are the top 10 airports from which to deploy a team to<br>have the greatest impact on medical deserts, based on a<br>50km travel distance:</div>
<div class="dot" style="top:436px"></div><div class="li" style="top:426px"><b>Cairo Int'l</b>: 22,377,970 reachable population</div>
<div class="dot" style="top:463px"></div><div class="li" style="top:453px"><b>Luanda 4 de Fevereiro</b>: 15,432,948 reachable<br>population</div>
<div class="dot" style="top:512px"></div><div class="li" style="top:502px"><b>Lagos Murtala Muhammed</b>: 13,147,447 reachable<br>population</div>
<div class="dot" style="top:561px"></div><div class="li" style="top:551px"><b>Kano Mallam Aminu Int'l</b>: 7,208,883 reachable<br>population</div>
<div class="dot" style="top:610px"></div><div class="li" style="top:600px"><b>Bacha Khan Int'l</b>: 5,900,871 reachable population</div>
<div class="dot" style="top:637px"></div><div class="li" style="top:627px"><b>Borg El Arab Int'l</b>: 5,668,611 reachable population</div>
<div class="dot" style="top:664px"></div><div class="li" style="top:654px"><b>Julius Nyerere Int'l</b>: 5,423,812 reachable population</div>
<div class="dot" style="top:691px"></div><div class="li" style="top:681px"><b>Mbuji Mayi</b>: 5,242,987 reachable population</div>
<div class="dot" style="top:718px"></div><div class="li" style="top:708px"><b>Multan</b>: 4,651,431 reachable population</div>
<div class="dot" style="top:745px"></div><div class="li" style="top:735px"><b>Lubumbashi Luano Int'l</b>: 4,619,540 reachable</div>
<div id="scroll"></div>
<div id="div"></div>
<div style="position:absolute;left:0;top:762px;width:483px;height:81px;background:#fff"></div>
<div id="inp"><span>Message AI Agent...</span><div id="send"><svg width="27" height="26"><path d="M13.5 20V7M8.5 12l5-5 5 5" stroke="#a9a9a9" stroke-width="1.5" fill="none"/></svg></div></div>
<div id="foot">Responses are AI-generated. Please verify key information.</div>
</div>
<div style="position:absolute;left:18px;top:911px;font-family:'Liberation Sans',Arial,sans-serif;font-size:20px;line-height:20px;color:#fff;-webkit-text-stroke:2.6px #1a1a1a;paint-order:stroke fill;letter-spacing:-0.2px">Google</div>
</body></html>
